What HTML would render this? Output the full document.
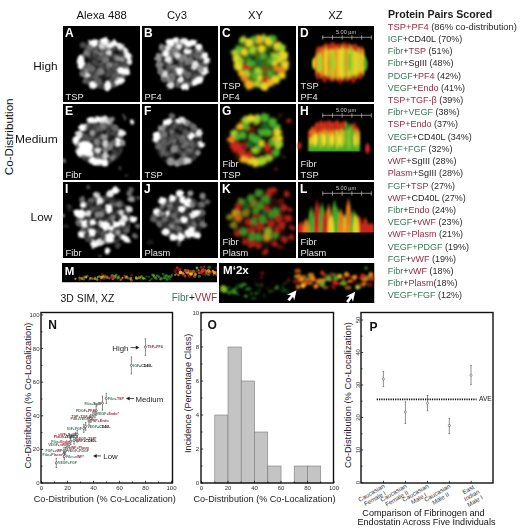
<!DOCTYPE html>
<html><head><meta charset="utf-8"><style>
html,body{margin:0;padding:0;background:#fff;}
body{width:520px;height:529px;overflow:hidden;}
svg{display:block;font-family:"Liberation Sans", sans-serif;}
svg text:not([transform]){filter:blur(0.3px);}
</style></head><body>
<svg width="520" height="529" viewBox="0 0 520 529">
<defs><clipPath id="clipA"><rect x="63" y="26" width="77" height="76"/></clipPath><filter id="blA" x="-20%" y="-20%" width="140%" height="140%"><feTurbulence type="fractalNoise" baseFrequency="0.22" numOctaves="2" seed="101" result="t"/><feDisplacementMap in="SourceGraphic" in2="t" scale="3.5" xChannelSelector="R" yChannelSelector="G" result="d"/><feGaussianBlur in="d" stdDeviation="1.2"/></filter><filter id="txA" x="0" y="0" width="100%" height="100%" color-interpolation-filters="sRGB"><feTurbulence type="fractalNoise" baseFrequency="0.16" numOctaves="2" seed="3" result="n"/><feColorMatrix in="n" type="matrix" values="0 0 0 0 0  0 0 0 0 0  0 0 0 0 0  1.6 0 0 0 -0.3" result="a"/><feFlood flood-color="rgb(127,127,127)"/><feComposite in2="a" operator="in" result="g"/><feComposite in="g" in2="SourceAlpha" operator="in" result="t"/><feGaussianBlur in="t" stdDeviation="0.9"/></filter><clipPath id="clipB"><rect x="142" y="26" width="76" height="76"/></clipPath><filter id="blB" x="-20%" y="-20%" width="140%" height="140%"><feTurbulence type="fractalNoise" baseFrequency="0.22" numOctaves="2" seed="102" result="t"/><feDisplacementMap in="SourceGraphic" in2="t" scale="3.5" xChannelSelector="R" yChannelSelector="G" result="d"/><feGaussianBlur in="d" stdDeviation="1.2"/></filter><filter id="txB" x="0" y="0" width="100%" height="100%" color-interpolation-filters="sRGB"><feTurbulence type="fractalNoise" baseFrequency="0.16" numOctaves="2" seed="5" result="n"/><feColorMatrix in="n" type="matrix" values="0 0 0 0 0  0 0 0 0 0  0 0 0 0 0  1.6 0 0 0 -0.3" result="a"/><feFlood flood-color="rgb(153,153,153)"/><feComposite in2="a" operator="in" result="g"/><feComposite in="g" in2="SourceAlpha" operator="in" result="t"/><feGaussianBlur in="t" stdDeviation="0.9"/></filter><clipPath id="clipE"><rect x="63" y="104" width="77" height="76"/></clipPath><filter id="blE" x="-20%" y="-20%" width="140%" height="140%"><feTurbulence type="fractalNoise" baseFrequency="0.22" numOctaves="2" seed="103" result="t"/><feDisplacementMap in="SourceGraphic" in2="t" scale="3.5" xChannelSelector="R" yChannelSelector="G" result="d"/><feGaussianBlur in="d" stdDeviation="1.2"/></filter><filter id="txE" x="0" y="0" width="100%" height="100%" color-interpolation-filters="sRGB"><feTurbulence type="fractalNoise" baseFrequency="0.16" numOctaves="2" seed="7" result="n"/><feColorMatrix in="n" type="matrix" values="0 0 0 0 0  0 0 0 0 0  0 0 0 0 0  1.6 0 0 0 -0.3" result="a"/><feFlood flood-color="rgb(114,114,114)"/><feComposite in2="a" operator="in" result="g"/><feComposite in="g" in2="SourceAlpha" operator="in" result="t"/><feGaussianBlur in="t" stdDeviation="0.9"/></filter><clipPath id="clipF"><rect x="142" y="104" width="76" height="76"/></clipPath><filter id="blF" x="-20%" y="-20%" width="140%" height="140%"><feTurbulence type="fractalNoise" baseFrequency="0.22" numOctaves="2" seed="104" result="t"/><feDisplacementMap in="SourceGraphic" in2="t" scale="3.5" xChannelSelector="R" yChannelSelector="G" result="d"/><feGaussianBlur in="d" stdDeviation="1.2"/></filter><filter id="txF" x="0" y="0" width="100%" height="100%" color-interpolation-filters="sRGB"><feTurbulence type="fractalNoise" baseFrequency="0.16" numOctaves="2" seed="9" result="n"/><feColorMatrix in="n" type="matrix" values="0 0 0 0 0  0 0 0 0 0  0 0 0 0 0  1.6 0 0 0 -0.3" result="a"/><feFlood flood-color="rgb(114,114,114)"/><feComposite in2="a" operator="in" result="g"/><feComposite in="g" in2="SourceAlpha" operator="in" result="t"/><feGaussianBlur in="t" stdDeviation="0.9"/></filter><clipPath id="clipI"><rect x="63" y="182" width="77" height="76"/></clipPath><filter id="blI" x="-20%" y="-20%" width="140%" height="140%"><feTurbulence type="fractalNoise" baseFrequency="0.22" numOctaves="2" seed="105" result="t"/><feDisplacementMap in="SourceGraphic" in2="t" scale="3.5" xChannelSelector="R" yChannelSelector="G" result="d"/><feGaussianBlur in="d" stdDeviation="1.2"/></filter><filter id="txI" x="0" y="0" width="100%" height="100%" color-interpolation-filters="sRGB"><feTurbulence type="fractalNoise" baseFrequency="0.16" numOctaves="2" seed="11" result="n"/><feColorMatrix in="n" type="matrix" values="0 0 0 0 0  0 0 0 0 0  0 0 0 0 0  1.6 0 0 0 -0.3" result="a"/><feFlood flood-color="rgb(102,102,102)"/><feComposite in2="a" operator="in" result="g"/><feComposite in="g" in2="SourceAlpha" operator="in" result="t"/><feGaussianBlur in="t" stdDeviation="0.9"/></filter><clipPath id="clipJ"><rect x="142" y="182" width="76" height="76"/></clipPath><filter id="blJ" x="-20%" y="-20%" width="140%" height="140%"><feTurbulence type="fractalNoise" baseFrequency="0.22" numOctaves="2" seed="106" result="t"/><feDisplacementMap in="SourceGraphic" in2="t" scale="3.5" xChannelSelector="R" yChannelSelector="G" result="d"/><feGaussianBlur in="d" stdDeviation="1.2"/></filter><filter id="txJ" x="0" y="0" width="100%" height="100%" color-interpolation-filters="sRGB"><feTurbulence type="fractalNoise" baseFrequency="0.16" numOctaves="2" seed="13" result="n"/><feColorMatrix in="n" type="matrix" values="0 0 0 0 0  0 0 0 0 0  0 0 0 0 0  1.6 0 0 0 -0.3" result="a"/><feFlood flood-color="rgb(89,89,89)"/><feComposite in2="a" operator="in" result="g"/><feComposite in="g" in2="SourceAlpha" operator="in" result="t"/><feGaussianBlur in="t" stdDeviation="0.9"/></filter><clipPath id="clipC"><rect x="220" y="26" width="76" height="76"/></clipPath><filter id="blC" x="-20%" y="-20%" width="140%" height="140%"><feTurbulence type="fractalNoise" baseFrequency="0.22" numOctaves="2" seed="107" result="t"/><feDisplacementMap in="SourceGraphic" in2="t" scale="3.5" xChannelSelector="R" yChannelSelector="G" result="d"/><feGaussianBlur in="d" stdDeviation="1.45"/></filter><clipPath id="clipG"><rect x="220" y="104" width="76" height="76"/></clipPath><filter id="blG" x="-20%" y="-20%" width="140%" height="140%"><feTurbulence type="fractalNoise" baseFrequency="0.22" numOctaves="2" seed="108" result="t"/><feDisplacementMap in="SourceGraphic" in2="t" scale="3.5" xChannelSelector="R" yChannelSelector="G" result="d"/><feGaussianBlur in="d" stdDeviation="1.45"/></filter><clipPath id="clipK"><rect x="220" y="182" width="76" height="76"/></clipPath><filter id="blK" x="-20%" y="-20%" width="140%" height="140%"><feTurbulence type="fractalNoise" baseFrequency="0.22" numOctaves="2" seed="109" result="t"/><feDisplacementMap in="SourceGraphic" in2="t" scale="3.5" xChannelSelector="R" yChannelSelector="G" result="d"/><feGaussianBlur in="d" stdDeviation="1.7"/></filter><linearGradient id="gDY" x1="0" y1="0" x2="0" y2="1"><stop offset="0" stop-color="rgb(195,40,20)" stop-opacity="0.8"/><stop offset="0.14" stop-color="rgb(230,120,25)" stop-opacity="1"/><stop offset="0.3" stop-color="rgb(232,215,40)" stop-opacity="1"/><stop offset="0.7" stop-color="rgb(232,215,40)" stop-opacity="1"/><stop offset="0.84" stop-color="rgb(205,60,20)" stop-opacity="1"/><stop offset="1" stop-color="rgb(110,20,10)" stop-opacity="0.5"/></linearGradient><linearGradient id="gHY" x1="0" y1="0" x2="0" y2="1"><stop offset="0" stop-color="rgb(195,40,20)" stop-opacity="0.9"/><stop offset="0.28" stop-color="rgb(215,60,20)" stop-opacity="1"/><stop offset="0.45" stop-color="rgb(232,215,40)" stop-opacity="1"/><stop offset="0.72" stop-color="rgb(232,215,40)" stop-opacity="1"/><stop offset="0.86" stop-color="rgb(150,200,40)" stop-opacity="1"/><stop offset="1" stop-color="rgb(50,165,45)" stop-opacity="1"/></linearGradient><linearGradient id="gLY" x1="0" y1="0" x2="0" y2="1"><stop offset="0" stop-color="rgb(232,215,40)" stop-opacity="0.0"/><stop offset="0.25" stop-color="rgb(232,215,40)" stop-opacity="0.8"/><stop offset="0.7" stop-color="rgb(232,215,40)" stop-opacity="1"/><stop offset="1" stop-color="rgb(232,215,40)" stop-opacity="1"/></linearGradient><linearGradient id="gDL" x1="0" y1="0" x2="0" y2="1"><stop offset="0" stop-color="rgb(195,40,20)" stop-opacity="0.8"/><stop offset="0.14" stop-color="rgb(230,120,25)" stop-opacity="1"/><stop offset="0.3" stop-color="rgb(165,210,45)" stop-opacity="1"/><stop offset="0.7" stop-color="rgb(165,210,45)" stop-opacity="1"/><stop offset="0.84" stop-color="rgb(205,60,20)" stop-opacity="1"/><stop offset="1" stop-color="rgb(110,20,10)" stop-opacity="0.5"/></linearGradient><linearGradient id="gHL" x1="0" y1="0" x2="0" y2="1"><stop offset="0" stop-color="rgb(195,40,20)" stop-opacity="0.9"/><stop offset="0.28" stop-color="rgb(215,60,20)" stop-opacity="1"/><stop offset="0.45" stop-color="rgb(165,210,45)" stop-opacity="1"/><stop offset="0.72" stop-color="rgb(165,210,45)" stop-opacity="1"/><stop offset="0.86" stop-color="rgb(150,200,40)" stop-opacity="1"/><stop offset="1" stop-color="rgb(50,165,45)" stop-opacity="1"/></linearGradient><linearGradient id="gLL" x1="0" y1="0" x2="0" y2="1"><stop offset="0" stop-color="rgb(165,210,45)" stop-opacity="0.0"/><stop offset="0.25" stop-color="rgb(165,210,45)" stop-opacity="0.8"/><stop offset="0.7" stop-color="rgb(165,210,45)" stop-opacity="1"/><stop offset="1" stop-color="rgb(165,210,45)" stop-opacity="1"/></linearGradient><linearGradient id="gDG" x1="0" y1="0" x2="0" y2="1"><stop offset="0" stop-color="rgb(195,40,20)" stop-opacity="0.8"/><stop offset="0.14" stop-color="rgb(230,120,25)" stop-opacity="1"/><stop offset="0.3" stop-color="rgb(70,175,45)" stop-opacity="1"/><stop offset="0.7" stop-color="rgb(70,175,45)" stop-opacity="1"/><stop offset="0.84" stop-color="rgb(205,60,20)" stop-opacity="1"/><stop offset="1" stop-color="rgb(110,20,10)" stop-opacity="0.5"/></linearGradient><linearGradient id="gHG" x1="0" y1="0" x2="0" y2="1"><stop offset="0" stop-color="rgb(195,40,20)" stop-opacity="0.9"/><stop offset="0.28" stop-color="rgb(215,60,20)" stop-opacity="1"/><stop offset="0.45" stop-color="rgb(70,175,45)" stop-opacity="1"/><stop offset="0.72" stop-color="rgb(70,175,45)" stop-opacity="1"/><stop offset="0.86" stop-color="rgb(150,200,40)" stop-opacity="1"/><stop offset="1" stop-color="rgb(50,165,45)" stop-opacity="1"/></linearGradient><linearGradient id="gLG" x1="0" y1="0" x2="0" y2="1"><stop offset="0" stop-color="rgb(70,175,45)" stop-opacity="0.0"/><stop offset="0.25" stop-color="rgb(70,175,45)" stop-opacity="0.8"/><stop offset="0.7" stop-color="rgb(70,175,45)" stop-opacity="1"/><stop offset="1" stop-color="rgb(70,175,45)" stop-opacity="1"/></linearGradient><linearGradient id="gDO" x1="0" y1="0" x2="0" y2="1"><stop offset="0" stop-color="rgb(195,40,20)" stop-opacity="0.8"/><stop offset="0.14" stop-color="rgb(230,120,25)" stop-opacity="1"/><stop offset="0.3" stop-color="rgb(240,180,30)" stop-opacity="1"/><stop offset="0.7" stop-color="rgb(240,180,30)" stop-opacity="1"/><stop offset="0.84" stop-color="rgb(205,60,20)" stop-opacity="1"/><stop offset="1" stop-color="rgb(110,20,10)" stop-opacity="0.5"/></linearGradient><linearGradient id="gHO" x1="0" y1="0" x2="0" y2="1"><stop offset="0" stop-color="rgb(195,40,20)" stop-opacity="0.9"/><stop offset="0.28" stop-color="rgb(215,60,20)" stop-opacity="1"/><stop offset="0.45" stop-color="rgb(240,180,30)" stop-opacity="1"/><stop offset="0.72" stop-color="rgb(240,180,30)" stop-opacity="1"/><stop offset="0.86" stop-color="rgb(150,200,40)" stop-opacity="1"/><stop offset="1" stop-color="rgb(50,165,45)" stop-opacity="1"/></linearGradient><linearGradient id="gLO" x1="0" y1="0" x2="0" y2="1"><stop offset="0" stop-color="rgb(240,180,30)" stop-opacity="0.0"/><stop offset="0.25" stop-color="rgb(240,180,30)" stop-opacity="0.8"/><stop offset="0.7" stop-color="rgb(240,180,30)" stop-opacity="1"/><stop offset="1" stop-color="rgb(240,180,30)" stop-opacity="1"/></linearGradient><linearGradient id="gHG" x1="0" y1="0" x2="0" y2="1"><stop offset="0" stop-color="rgb(60,170,50)" stop-opacity="0.9"/><stop offset="0.5" stop-color="rgb(90,190,50)" stop-opacity="1"/><stop offset="1" stop-color="rgb(50,165,45)" stop-opacity="1"/></linearGradient><clipPath id="clipD"><rect x="298" y="26" width="76" height="76"/></clipPath><filter id="blD" x="-20%" y="-20%" width="140%" height="140%"><feGaussianBlur stdDeviation="1.2 1.8"/></filter><linearGradient id="gHbot" x1="0" y1="0" x2="0" y2="1"><stop offset="0" stop-color="rgb(60,170,45)" stop-opacity="0"/><stop offset="0.5" stop-color="rgb(70,175,45)" stop-opacity="0.9"/><stop offset="1" stop-color="rgb(50,165,45)" stop-opacity="1"/></linearGradient><clipPath id="clipH"><rect x="298" y="104" width="76" height="47.6"/></clipPath><filter id="blH" x="-20%" y="-20%" width="140%" height="140%"><feGaussianBlur stdDeviation="1.0 1.7"/></filter><linearGradient id="gFR" x1="0" y1="0" x2="0" y2="1"><stop offset="0" stop-color="rgb(205,40,30)" stop-opacity="0.2"/><stop offset="0.12" stop-color="rgb(205,40,30)" stop-opacity="0.9"/><stop offset="1" stop-color="rgb(205,40,30)" stop-opacity="1"/></linearGradient><linearGradient id="gFG" x1="0" y1="0" x2="0" y2="1"><stop offset="0" stop-color="rgb(70,175,45)" stop-opacity="0.2"/><stop offset="0.12" stop-color="rgb(70,175,45)" stop-opacity="0.9"/><stop offset="1" stop-color="rgb(70,175,45)" stop-opacity="1"/></linearGradient><linearGradient id="gFO" x1="0" y1="0" x2="0" y2="1"><stop offset="0" stop-color="rgb(232,130,30)" stop-opacity="0.2"/><stop offset="0.12" stop-color="rgb(232,130,30)" stop-opacity="0.9"/><stop offset="1" stop-color="rgb(232,130,30)" stop-opacity="1"/></linearGradient><linearGradient id="gFY" x1="0" y1="0" x2="0" y2="1"><stop offset="0" stop-color="rgb(232,215,40)" stop-opacity="0.2"/><stop offset="0.12" stop-color="rgb(232,215,40)" stop-opacity="0.9"/><stop offset="1" stop-color="rgb(232,215,40)" stop-opacity="1"/></linearGradient><clipPath id="clipL"><rect x="298" y="182" width="76" height="50.6"/></clipPath><filter id="blL" x="-20%" y="-20%" width="140%" height="140%"><feGaussianBlur stdDeviation="1.0 1.5"/></filter><clipPath id="clipM"><rect x="62" y="263" width="155" height="19.5"/></clipPath><filter id="blM" x="-20%" y="-20%" width="140%" height="140%"><feGaussianBlur stdDeviation="0.7"/></filter><clipPath id="clipMp"><rect x="219" y="263" width="155.5" height="40"/></clipPath><filter id="blMp" x="-20%" y="-20%" width="140%" height="140%"><feGaussianBlur stdDeviation="1.3"/></filter></defs>
<g clip-path="url(#clipA)">
<rect x="63" y="26" width="77" height="76" fill="#000"/>
<g transform="translate(63,26)"><ellipse cx="41.5" cy="38.5" rx="25" ry="25" fill="#fff" filter="url(#txA)"/></g>
<g filter="url(#blA)" transform="translate(63,26)" style="mix-blend-mode:lighten">
<ellipse cx="30.4" cy="17.2" rx="4.56" ry="3.84" fill="rgb(255,255,255)"/>
<ellipse cx="40.8" cy="14.9" rx="4.2" ry="3.6" fill="rgb(255,255,255)"/>
<ellipse cx="39.2" cy="20.3" rx="3.6" ry="3.0" fill="rgb(210,210,210)"/>
<ellipse cx="46.9" cy="19.5" rx="3.6" ry="3.0" fill="rgb(238,238,238)"/>
<ellipse cx="51.5" cy="17.2" rx="3.6" ry="3.0" fill="rgb(252,252,252)"/>
<ellipse cx="57" cy="20.3" rx="3.6" ry="3.0" fill="rgb(238,238,238)" transform="rotate(40 57 20.3)"/>
<ellipse cx="62.3" cy="25" rx="3.6" ry="3.0" fill="rgb(238,238,238)" transform="rotate(50 62.3 25)"/>
<ellipse cx="65.4" cy="30.3" rx="3.0" ry="3.6" fill="rgb(252,252,252)"/>
<ellipse cx="66.2" cy="35.5" rx="3.0" ry="3.6" fill="rgb(238,238,238)"/>
<ellipse cx="17.7" cy="36" rx="3.84" ry="7.2" fill="rgb(255,255,255)"/>
<ellipse cx="23.8" cy="27.2" rx="3.0" ry="3.0" fill="rgb(130,130,130)"/>
<ellipse cx="20" cy="19.5" rx="3.6" ry="3.6" fill="rgb(75,75,75)"/>
<ellipse cx="26.9" cy="21" rx="3.0" ry="3.0" fill="rgb(108,108,108)"/>
<ellipse cx="33" cy="25.7" rx="3.0" ry="3.0" fill="rgb(108,108,108)"/>
<ellipse cx="37.7" cy="28" rx="3.0" ry="3.0" fill="rgb(119,119,119)"/>
<ellipse cx="23" cy="44" rx="3.0" ry="3.0" fill="rgb(130,130,130)"/>
<ellipse cx="43" cy="33.4" rx="3.0" ry="3.0" fill="rgb(119,119,119)"/>
<ellipse cx="47" cy="38.8" rx="3.0" ry="3.0" fill="rgb(130,130,130)"/>
<ellipse cx="37" cy="44" rx="3.0" ry="3.0" fill="rgb(108,108,108)"/>
<ellipse cx="46" cy="26.5" rx="3.0" ry="3.0" fill="rgb(210,210,210)"/>
<ellipse cx="55.4" cy="32.6" rx="3.0" ry="2.4" fill="rgb(151,151,151)"/>
<ellipse cx="58.5" cy="33.4" rx="3.0" ry="2.4" fill="rgb(151,151,151)"/>
<ellipse cx="57.7" cy="44.5" rx="3.6" ry="3.6" fill="rgb(252,252,252)"/>
<ellipse cx="63" cy="45.7" rx="3.6" ry="3.6" fill="rgb(255,255,255)"/>
<ellipse cx="19.2" cy="48" rx="3.0" ry="3.0" fill="rgb(119,119,119)"/>
<ellipse cx="24.6" cy="48.8" rx="3.0" ry="2.64" fill="rgb(224,224,224)"/>
<ellipse cx="30" cy="59.5" rx="3.84" ry="3.6" fill="rgb(255,255,255)"/>
<ellipse cx="44.6" cy="60" rx="3.6" ry="5.4" fill="rgb(255,255,255)"/>
<ellipse cx="57.3" cy="55.3" rx="5.4" ry="3.0" fill="rgb(255,255,255)" transform="rotate(-30 57.3 55.3)"/>
<ellipse cx="38.5" cy="45.7" rx="3.0" ry="3.0" fill="rgb(130,130,130)"/>
<ellipse cx="29.2" cy="42.6" rx="3.0" ry="3.0" fill="rgb(108,108,108)"/>
<ellipse cx="22.3" cy="55" rx="3.0" ry="3.0" fill="rgb(97,97,97)"/>
<ellipse cx="52" cy="50" rx="3.0" ry="3.0" fill="rgb(97,97,97)"/>
<ellipse cx="36" cy="56" rx="3.0" ry="3.0" fill="rgb(97,97,97)"/>
</g></g>
<text x="65" y="36.8" font-size="12" font-weight="700" fill="#fff">A</text>
<text x="65.5" y="99.8" font-size="9.3" fill="#e8e8e8">TSP</text>
<g clip-path="url(#clipB)">
<rect x="142" y="26" width="76" height="76" fill="#000"/>
<g transform="translate(142,26)"><ellipse cx="41" cy="37.8" rx="25.5" ry="24.5" fill="#fff" filter="url(#txB)"/></g>
<g filter="url(#blB)" transform="translate(142,26)" style="mix-blend-mode:lighten">
<ellipse cx="28.5" cy="16.5" rx="4.2" ry="3.6" fill="rgb(255,255,255)"/>
<ellipse cx="33.8" cy="14.2" rx="3.6" ry="3.0" fill="rgb(252,252,252)"/>
<ellipse cx="42.3" cy="15" rx="3.6" ry="3.0" fill="rgb(238,238,238)"/>
<ellipse cx="46.9" cy="18" rx="3.6" ry="3.0" fill="rgb(255,255,255)"/>
<ellipse cx="45.4" cy="25.7" rx="4.2" ry="2.4" fill="rgb(255,255,255)"/>
<ellipse cx="26.2" cy="21.8" rx="3.36" ry="3.36" fill="rgb(238,238,238)"/>
<ellipse cx="23" cy="27.2" rx="3.36" ry="3.36" fill="rgb(252,252,252)"/>
<ellipse cx="19.2" cy="21" rx="3.36" ry="3.36" fill="rgb(130,130,130)"/>
<ellipse cx="16.2" cy="31" rx="3.36" ry="3.6" fill="rgb(151,151,151)"/>
<ellipse cx="16.9" cy="38.8" rx="3.36" ry="3.6" fill="rgb(130,130,130)"/>
<ellipse cx="26.2" cy="33.4" rx="3.36" ry="3.36" fill="rgb(238,238,238)"/>
<ellipse cx="35.4" cy="29.5" rx="3.12" ry="3.12" fill="rgb(224,224,224)"/>
<ellipse cx="36.9" cy="20.3" rx="3.12" ry="3.12" fill="rgb(238,238,238)"/>
<ellipse cx="33" cy="24" rx="3.0" ry="3.0" fill="rgb(130,130,130)"/>
<ellipse cx="40.8" cy="31.8" rx="3.0" ry="3.0" fill="rgb(119,119,119)"/>
<ellipse cx="46.2" cy="35" rx="3.0" ry="3.0" fill="rgb(130,130,130)"/>
<ellipse cx="36.9" cy="45" rx="3.36" ry="3.36" fill="rgb(224,224,224)"/>
<ellipse cx="19.2" cy="45" rx="3.36" ry="3.36" fill="rgb(130,130,130)"/>
<ellipse cx="29.2" cy="40.3" rx="3.0" ry="3.0" fill="rgb(108,108,108)"/>
<ellipse cx="44.6" cy="17.2" rx="3.36" ry="3.0" fill="rgb(255,255,255)"/>
<ellipse cx="50.8" cy="16.5" rx="3.36" ry="3.0" fill="rgb(252,252,252)"/>
<ellipse cx="56.9" cy="21" rx="3.36" ry="3.36" fill="rgb(252,252,252)"/>
<ellipse cx="62.3" cy="30.3" rx="3.6" ry="3.6" fill="rgb(255,255,255)"/>
<ellipse cx="64.6" cy="34" rx="3.36" ry="3.6" fill="rgb(255,255,255)"/>
<ellipse cx="53" cy="38.8" rx="3.36" ry="3.6" fill="rgb(252,252,252)"/>
<ellipse cx="62.3" cy="45" rx="3.36" ry="3.36" fill="rgb(252,252,252)"/>
<ellipse cx="55.4" cy="30.3" rx="3.0" ry="3.0" fill="rgb(108,108,108)"/>
<ellipse cx="42.3" cy="31.8" rx="3.0" ry="3.0" fill="rgb(130,130,130)"/>
<ellipse cx="47.7" cy="35" rx="3.0" ry="3.0" fill="rgb(119,119,119)"/>
<ellipse cx="23" cy="48" rx="3.36" ry="3.36" fill="rgb(224,224,224)"/>
<ellipse cx="37.7" cy="45.7" rx="3.36" ry="3.36" fill="rgb(255,255,255)"/>
<ellipse cx="38.5" cy="53.4" rx="3.36" ry="3.36" fill="rgb(238,238,238)"/>
<ellipse cx="28.5" cy="59.5" rx="3.6" ry="3.36" fill="rgb(224,224,224)"/>
<ellipse cx="43" cy="61" rx="3.84" ry="3.6" fill="rgb(255,255,255)"/>
<ellipse cx="18.5" cy="45.7" rx="3.0" ry="3.0" fill="rgb(119,119,119)"/>
<ellipse cx="30" cy="49.5" rx="3.0" ry="3.0" fill="rgb(119,119,119)"/>
<ellipse cx="21.5" cy="53.4" rx="3.0" ry="3.0" fill="rgb(108,108,108)"/>
<ellipse cx="33" cy="41.8" rx="3.0" ry="3.0" fill="rgb(119,119,119)"/>
<ellipse cx="55.4" cy="54.9" rx="6.6" ry="3.36" fill="rgb(255,255,255)" transform="rotate(-28 55.4 54.9)"/>
<ellipse cx="62.3" cy="45.7" rx="3.36" ry="3.36" fill="rgb(252,252,252)"/>
<ellipse cx="53" cy="40.3" rx="3.0" ry="3.0" fill="rgb(224,224,224)"/>
<ellipse cx="59.2" cy="44" rx="3.0" ry="3.0" fill="rgb(151,151,151)"/>
<ellipse cx="46.2" cy="49.5" rx="3.0" ry="3.0" fill="rgb(108,108,108)"/>
</g></g>
<text x="144" y="36.8" font-size="12" font-weight="700" fill="#fff">B</text>
<text x="144.5" y="99.8" font-size="9.3" fill="#e8e8e8">PF4</text>
<g clip-path="url(#clipE)">
<rect x="63" y="104" width="77" height="76" fill="#000"/>
<g transform="translate(63,104)"><ellipse cx="36.3" cy="38.5" rx="24.5" ry="23.5" fill="#fff" filter="url(#txE)"/></g>
<g filter="url(#blE)" transform="translate(63,104)" style="mix-blend-mode:lighten">
<ellipse cx="28.5" cy="16.5" rx="4.8" ry="3.6" fill="rgb(255,255,255)"/>
<ellipse cx="34.7" cy="15.7" rx="3.6" ry="3.36" fill="rgb(252,252,252)"/>
<ellipse cx="40.8" cy="15.7" rx="3.6" ry="3.36" fill="rgb(238,238,238)"/>
<ellipse cx="45.5" cy="16.5" rx="3.6" ry="3.36" fill="rgb(224,224,224)"/>
<ellipse cx="47.8" cy="15.7" rx="3.36" ry="3.12" fill="rgb(151,151,151)"/>
<ellipse cx="20" cy="23.4" rx="3.6" ry="3.6" fill="rgb(255,255,255)"/>
<ellipse cx="16.2" cy="30.3" rx="3.36" ry="3.6" fill="rgb(224,224,224)"/>
<ellipse cx="13.2" cy="36.5" rx="3.6" ry="4.2" fill="rgb(255,255,255)"/>
<ellipse cx="22.4" cy="44.2" rx="7.8" ry="7.2" fill="rgb(255,255,255)"/>
<ellipse cx="18" cy="48" rx="4.8" ry="4.8" fill="rgb(255,255,255)"/>
<ellipse cx="27" cy="50" rx="3.6" ry="3.6" fill="rgb(252,252,252)"/>
<ellipse cx="29.3" cy="28.8" rx="3.12" ry="3.12" fill="rgb(151,151,151)"/>
<ellipse cx="33.9" cy="38" rx="3.0" ry="3.0" fill="rgb(130,130,130)"/>
<ellipse cx="40" cy="32.6" rx="3.12" ry="3.12" fill="rgb(140,140,140)"/>
<ellipse cx="42.4" cy="38.8" rx="3.12" ry="3.12" fill="rgb(130,130,130)"/>
<ellipse cx="39.3" cy="23.4" rx="3.12" ry="3.12" fill="rgb(108,108,108)"/>
<ellipse cx="40" cy="21" rx="3.0" ry="3.0" fill="rgb(119,119,119)"/>
<ellipse cx="69.3" cy="17.6" rx="2.4" ry="2.4" fill="rgb(255,255,255)"/>
<ellipse cx="61.6" cy="13.4" rx="1.44" ry="4.2" fill="rgb(75,75,75)" transform="rotate(-30 61.6 13.4)"/>
<ellipse cx="58.5" cy="28.8" rx="3.6" ry="3.6" fill="rgb(238,238,238)"/>
<ellipse cx="55.5" cy="38" rx="3.0" ry="4.2" fill="rgb(255,255,255)"/>
<ellipse cx="59.3" cy="38.8" rx="3.0" ry="3.0" fill="rgb(151,151,151)"/>
<ellipse cx="41.6" cy="32.6" rx="3.0" ry="3.0" fill="rgb(151,151,151)"/>
<ellipse cx="41.6" cy="39.5" rx="3.0" ry="3.0" fill="rgb(210,210,210)"/>
<ellipse cx="49.3" cy="40.3" rx="3.0" ry="3.0" fill="rgb(108,108,108)"/>
<ellipse cx="52.4" cy="24" rx="3.0" ry="3.0" fill="rgb(108,108,108)"/>
<ellipse cx="35.5" cy="58" rx="6.6" ry="3.6" fill="rgb(255,255,255)"/>
<ellipse cx="30" cy="56.5" rx="3.6" ry="3.6" fill="rgb(255,255,255)"/>
<ellipse cx="40.8" cy="58" rx="3.6" ry="3.6" fill="rgb(252,252,252)"/>
<ellipse cx="34.7" cy="46.5" rx="3.12" ry="3.12" fill="rgb(224,224,224)"/>
<ellipse cx="42.4" cy="45.7" rx="3.0" ry="3.0" fill="rgb(130,130,130)"/>
<ellipse cx="41.6" cy="58.8" rx="3.6" ry="3.6" fill="rgb(255,255,255)"/>
<ellipse cx="42.4" cy="51.8" rx="3.0" ry="3.0" fill="rgb(210,210,210)"/>
<ellipse cx="49.3" cy="53.4" rx="3.0" ry="3.0" fill="rgb(130,130,130)"/>
<ellipse cx="47" cy="42.6" rx="3.0" ry="3.0" fill="rgb(130,130,130)"/>
<ellipse cx="57" cy="64.5" rx="1.2" ry="1.2" fill="rgb(108,108,108)"/>
<ellipse cx="63.2" cy="71.8" rx="1.2" ry="1.2" fill="rgb(65,65,65)"/>
<ellipse cx="1" cy="57" rx="1.8" ry="1.8" fill="rgb(130,130,130)"/>
</g></g>
<text x="65" y="114.8" font-size="12" font-weight="700" fill="#fff">E</text>
<text x="65.5" y="177.8" font-size="9.3" fill="#e8e8e8">Fibr</text>
<g clip-path="url(#clipF)">
<rect x="142" y="104" width="76" height="76" fill="#000"/>
<g transform="translate(142,104)"><ellipse cx="36.5" cy="38.3" rx="24" ry="23.5" fill="#fff" filter="url(#txF)"/></g>
<g filter="url(#blF)" transform="translate(142,104)" style="mix-blend-mode:lighten">
<ellipse cx="25.5" cy="18" rx="4.8" ry="3.0" fill="rgb(255,255,255)" transform="rotate(-20 25.5 18)"/>
<ellipse cx="37.8" cy="16.5" rx="4.2" ry="3.0" fill="rgb(252,252,252)" transform="rotate(-20 37.8 16.5)"/>
<ellipse cx="43.9" cy="18.8" rx="3.36" ry="3.0" fill="rgb(210,210,210)"/>
<ellipse cx="19.3" cy="24.2" rx="3.36" ry="3.36" fill="rgb(151,151,151)"/>
<ellipse cx="14.7" cy="32.6" rx="3.36" ry="5.4" fill="rgb(255,255,255)" transform="rotate(15 14.7 32.6)"/>
<ellipse cx="22.4" cy="30.3" rx="3.0" ry="3.0" fill="rgb(119,119,119)"/>
<ellipse cx="30" cy="28" rx="3.0" ry="3.0" fill="rgb(108,108,108)"/>
<ellipse cx="17" cy="41" rx="3.0" ry="3.0" fill="rgb(108,108,108)"/>
<ellipse cx="22.4" cy="37.2" rx="3.0" ry="3.0" fill="rgb(97,97,97)"/>
<ellipse cx="32.4" cy="37.2" rx="3.0" ry="3.0" fill="rgb(108,108,108)"/>
<ellipse cx="39.3" cy="34" rx="3.0" ry="3.0" fill="rgb(97,97,97)"/>
<ellipse cx="44" cy="39.5" rx="3.0" ry="3.0" fill="rgb(119,119,119)"/>
<ellipse cx="32.4" cy="45" rx="3.0" ry="3.0" fill="rgb(130,130,130)"/>
<ellipse cx="49.3" cy="31.8" rx="3.6" ry="3.6" fill="rgb(255,255,255)"/>
<ellipse cx="57" cy="29.5" rx="3.6" ry="3.6" fill="rgb(238,238,238)"/>
<ellipse cx="59.3" cy="40.3" rx="3.36" ry="3.36" fill="rgb(252,252,252)"/>
<ellipse cx="40" cy="15.7" rx="3.12" ry="3.0" fill="rgb(224,224,224)"/>
<ellipse cx="45.5" cy="19.5" rx="3.0" ry="3.0" fill="rgb(130,130,130)"/>
<ellipse cx="51.6" cy="22.6" rx="3.0" ry="3.0" fill="rgb(108,108,108)"/>
<ellipse cx="41.6" cy="33.4" rx="3.0" ry="3.0" fill="rgb(108,108,108)"/>
<ellipse cx="49.3" cy="40.3" rx="3.0" ry="3.0" fill="rgb(97,97,97)"/>
<ellipse cx="41.6" cy="41.8" rx="3.0" ry="3.0" fill="rgb(108,108,108)"/>
<ellipse cx="17" cy="42.6" rx="3.0" ry="3.0" fill="rgb(108,108,108)"/>
<ellipse cx="32.4" cy="45.7" rx="3.0" ry="3.0" fill="rgb(140,140,140)"/>
<ellipse cx="28.5" cy="57.2" rx="3.36" ry="3.36" fill="rgb(151,151,151)"/>
<ellipse cx="34.7" cy="59.5" rx="3.36" ry="3.36" fill="rgb(151,151,151)"/>
<ellipse cx="42.4" cy="57.2" rx="3.36" ry="3.36" fill="rgb(210,210,210)"/>
<ellipse cx="41.6" cy="51.8" rx="3.0" ry="3.0" fill="rgb(108,108,108)"/>
<ellipse cx="24.7" cy="50.3" rx="3.0" ry="3.0" fill="rgb(86,86,86)"/>
<ellipse cx="55.5" cy="48.8" rx="3.0" ry="3.0" fill="rgb(140,140,140)"/>
<ellipse cx="46.2" cy="56.5" rx="3.36" ry="3.36" fill="rgb(210,210,210)"/>
<ellipse cx="39.3" cy="57.2" rx="3.0" ry="3.0" fill="rgb(130,130,130)"/>
<ellipse cx="30" cy="12.5" rx="3.0" ry="2.4" fill="rgb(108,108,108)"/>
</g></g>
<text x="144" y="114.8" font-size="12" font-weight="700" fill="#fff">F</text>
<text x="144.5" y="177.8" font-size="9.3" fill="#e8e8e8">TSP</text>
<g clip-path="url(#clipI)">
<rect x="63" y="182" width="77" height="76" fill="#000"/>
<g transform="translate(63,182)"><ellipse cx="42" cy="38" rx="26" ry="25" fill="#fff" filter="url(#txI)"/></g>
<g filter="url(#blI)" transform="translate(63,182)" style="mix-blend-mode:lighten">
<ellipse cx="17.7" cy="32.3" rx="5.04" ry="4.32" fill="rgb(255,255,255)"/>
<ellipse cx="14.5" cy="31" rx="3.6" ry="3.6" fill="rgb(255,255,255)"/>
<ellipse cx="25.4" cy="31.5" rx="3.36" ry="3.36" fill="rgb(224,224,224)"/>
<ellipse cx="20" cy="23" rx="3.0" ry="3.0" fill="rgb(255,255,255)"/>
<ellipse cx="19.2" cy="17.7" rx="3.0" ry="3.0" fill="rgb(108,108,108)"/>
<ellipse cx="25.4" cy="5.4" rx="1.8" ry="1.8" fill="rgb(86,86,86)"/>
<ellipse cx="33.8" cy="13" rx="3.36" ry="3.36" fill="rgb(210,210,210)"/>
<ellipse cx="36.9" cy="19.2" rx="3.36" ry="3.36" fill="rgb(238,238,238)"/>
<ellipse cx="28.5" cy="18.5" rx="3.0" ry="3.0" fill="rgb(97,97,97)"/>
<ellipse cx="34.6" cy="32.3" rx="3.12" ry="3.12" fill="rgb(130,130,130)"/>
<ellipse cx="6.2" cy="25.4" rx="1.8" ry="3.6" fill="rgb(54,54,54)"/>
<ellipse cx="0.5" cy="33.8" rx="1.8" ry="1.8" fill="rgb(130,130,130)"/>
<ellipse cx="47.8" cy="11.5" rx="4.8" ry="3.6" fill="rgb(238,238,238)" transform="rotate(-20 47.8 11.5)"/>
<ellipse cx="52.4" cy="8.5" rx="3.36" ry="3.36" fill="rgb(255,255,255)"/>
<ellipse cx="46.2" cy="27" rx="3.36" ry="4.8" fill="rgb(255,255,255)"/>
<ellipse cx="66.2" cy="11.5" rx="2.64" ry="2.64" fill="rgb(108,108,108)"/>
<ellipse cx="68.5" cy="7.7" rx="2.4" ry="2.4" fill="rgb(97,97,97)"/>
<ellipse cx="68.5" cy="17" rx="3.0" ry="3.0" fill="rgb(151,151,151)"/>
<ellipse cx="66.2" cy="27" rx="3.36" ry="3.36" fill="rgb(224,224,224)"/>
<ellipse cx="55.5" cy="23" rx="3.0" ry="3.0" fill="rgb(119,119,119)"/>
<ellipse cx="57.8" cy="30.8" rx="3.12" ry="3.12" fill="rgb(210,210,210)"/>
<ellipse cx="61.6" cy="36.2" rx="3.36" ry="3.36" fill="rgb(252,252,252)"/>
<ellipse cx="70" cy="37" rx="3.36" ry="3.36" fill="rgb(252,252,252)"/>
<ellipse cx="50" cy="36.2" rx="3.0" ry="3.0" fill="rgb(130,130,130)"/>
<ellipse cx="37.8" cy="32.3" rx="3.0" ry="3.0" fill="rgb(130,130,130)"/>
<ellipse cx="75.5" cy="16" rx="1.8" ry="1.8" fill="rgb(86,86,86)"/>
<ellipse cx="20.8" cy="41.8" rx="3.6" ry="3.6" fill="rgb(255,255,255)"/>
<ellipse cx="30" cy="40.6" rx="3.36" ry="3.36" fill="rgb(255,255,255)"/>
<ellipse cx="18.5" cy="52.2" rx="3.6" ry="3.6" fill="rgb(255,255,255)"/>
<ellipse cx="29.2" cy="50.6" rx="3.36" ry="4.2" fill="rgb(255,255,255)"/>
<ellipse cx="30.8" cy="62.2" rx="3.6" ry="3.6" fill="rgb(255,255,255)"/>
<ellipse cx="35.4" cy="60.6" rx="3.36" ry="3.36" fill="rgb(252,252,252)"/>
<ellipse cx="15.4" cy="40.6" rx="3.0" ry="3.0" fill="rgb(108,108,108)"/>
<ellipse cx="38.5" cy="42.2" rx="3.12" ry="3.12" fill="rgb(224,224,224)"/>
<ellipse cx="3" cy="44.5" rx="1.8" ry="2.4" fill="rgb(43,43,43)"/>
<ellipse cx="37" cy="73.7" rx="1.44" ry="1.44" fill="rgb(108,108,108)"/>
<ellipse cx="42.4" cy="43.7" rx="4.2" ry="4.2" fill="rgb(255,255,255)"/>
<ellipse cx="53.2" cy="42.2" rx="4.2" ry="3.0" fill="rgb(255,255,255)"/>
<ellipse cx="59.3" cy="40.6" rx="3.0" ry="3.0" fill="rgb(252,252,252)"/>
<ellipse cx="59.3" cy="37.5" rx="2.64" ry="2.64" fill="rgb(224,224,224)"/>
<ellipse cx="48.5" cy="46.8" rx="3.0" ry="3.0" fill="rgb(252,252,252)"/>
<ellipse cx="47" cy="56" rx="4.8" ry="4.8" fill="rgb(255,255,255)"/>
<ellipse cx="62.4" cy="56.8" rx="5.4" ry="3.0" fill="rgb(255,255,255)" transform="rotate(35 62.4 56.8)"/>
<ellipse cx="54.7" cy="50.6" rx="3.0" ry="3.0" fill="rgb(151,151,151)"/>
<ellipse cx="70" cy="37.5" rx="3.0" ry="3.0" fill="rgb(252,252,252)"/>
<ellipse cx="71.6" cy="53.7" rx="2.4" ry="2.4" fill="rgb(108,108,108)"/>
<ellipse cx="74.7" cy="44.5" rx="2.4" ry="2.4" fill="rgb(108,108,108)"/>
<ellipse cx="37.8" cy="60.6" rx="3.0" ry="3.0" fill="rgb(224,224,224)"/>
<ellipse cx="44.7" cy="69" rx="2.4" ry="3.6" fill="rgb(252,252,252)" transform="rotate(30 44.7 69)"/>
<ellipse cx="64" cy="48.3" rx="2.64" ry="2.64" fill="rgb(97,97,97)"/>
<ellipse cx="24" cy="47" rx="3.0" ry="3.0" fill="rgb(86,86,86)"/>
<ellipse cx="40" cy="52" rx="3.0" ry="3.0" fill="rgb(86,86,86)"/>
<ellipse cx="25" cy="57" rx="3.0" ry="3.0" fill="rgb(75,75,75)"/>
<ellipse cx="55" cy="64" rx="3.0" ry="3.0" fill="rgb(65,65,65)"/>
</g></g>
<text x="65" y="192.8" font-size="12" font-weight="700" fill="#fff">I</text>
<text x="65.5" y="255.8" font-size="9.3" fill="#e8e8e8">Fibr</text>
<g clip-path="url(#clipJ)">
<rect x="142" y="182" width="76" height="76" fill="#000"/>
<g transform="translate(142,182)"><ellipse cx="39" cy="36" rx="24" ry="23" fill="#fff" filter="url(#txJ)"/></g>
<g filter="url(#blJ)" transform="translate(142,182)" style="mix-blend-mode:lighten">
<ellipse cx="20.8" cy="19.2" rx="3.6" ry="3.6" fill="rgb(255,255,255)"/>
<ellipse cx="30.4" cy="16.5" rx="3.36" ry="3.36" fill="rgb(255,255,255)"/>
<ellipse cx="37.5" cy="11.5" rx="3.6" ry="3.6" fill="rgb(255,255,255)"/>
<ellipse cx="14.6" cy="30" rx="3.6" ry="3.6" fill="rgb(255,255,255)"/>
<ellipse cx="25.4" cy="31.5" rx="3.0" ry="3.0" fill="rgb(252,252,252)"/>
<ellipse cx="27.7" cy="24.6" rx="3.0" ry="3.0" fill="rgb(130,130,130)"/>
<ellipse cx="19.2" cy="31.5" rx="3.0" ry="3.0" fill="rgb(130,130,130)"/>
<ellipse cx="11.5" cy="35.4" rx="3.0" ry="3.0" fill="rgb(75,75,75)"/>
<ellipse cx="32.3" cy="33.8" rx="3.0" ry="3.0" fill="rgb(108,108,108)"/>
<ellipse cx="38.5" cy="27" rx="3.0" ry="3.0" fill="rgb(151,151,151)"/>
<ellipse cx="40.6" cy="17.7" rx="3.36" ry="3.36" fill="rgb(255,255,255)"/>
<ellipse cx="44.5" cy="20.8" rx="3.36" ry="3.36" fill="rgb(255,255,255)"/>
<ellipse cx="46.8" cy="19.2" rx="3.0" ry="3.0" fill="rgb(252,252,252)"/>
<ellipse cx="48.3" cy="11.5" rx="3.0" ry="3.0" fill="rgb(151,151,151)"/>
<ellipse cx="39.8" cy="27" rx="3.36" ry="3.36" fill="rgb(252,252,252)"/>
<ellipse cx="49.8" cy="23" rx="3.0" ry="3.0" fill="rgb(130,130,130)"/>
<ellipse cx="53.7" cy="31.5" rx="4.8" ry="3.0" fill="rgb(255,255,255)" transform="rotate(-25 53.7 31.5)"/>
<ellipse cx="49.8" cy="33.8" rx="3.0" ry="3.0" fill="rgb(238,238,238)"/>
<ellipse cx="42.2" cy="37.7" rx="3.6" ry="3.6" fill="rgb(255,255,255)"/>
<ellipse cx="60.6" cy="13.8" rx="3.0" ry="3.0" fill="rgb(130,130,130)"/>
<ellipse cx="65.2" cy="20" rx="2.64" ry="2.64" fill="rgb(97,97,97)"/>
<ellipse cx="59.8" cy="22.3" rx="3.0" ry="3.0" fill="rgb(108,108,108)"/>
<ellipse cx="60.6" cy="30.8" rx="3.0" ry="3.0" fill="rgb(97,97,97)"/>
<ellipse cx="23.8" cy="49.8" rx="3.6" ry="3.6" fill="rgb(255,255,255)"/>
<ellipse cx="30.8" cy="55.2" rx="3.36" ry="3.36" fill="rgb(255,255,255)"/>
<ellipse cx="38.5" cy="55.2" rx="3.6" ry="3.6" fill="rgb(255,255,255)"/>
<ellipse cx="30" cy="44.5" rx="3.0" ry="3.0" fill="rgb(130,130,130)"/>
<ellipse cx="17" cy="42.2" rx="3.0" ry="3.0" fill="rgb(108,108,108)"/>
<ellipse cx="12.3" cy="37.5" rx="3.0" ry="3.0" fill="rgb(97,97,97)"/>
<ellipse cx="23" cy="37.5" rx="3.0" ry="3.0" fill="rgb(108,108,108)"/>
<ellipse cx="35.4" cy="39" rx="3.0" ry="3.0" fill="rgb(119,119,119)"/>
<ellipse cx="37" cy="61.4" rx="2.64" ry="2.64" fill="rgb(86,86,86)"/>
<ellipse cx="47.5" cy="51.4" rx="4.8" ry="4.8" fill="rgb(255,255,255)"/>
<ellipse cx="49.8" cy="48.3" rx="3.6" ry="3.6" fill="rgb(252,252,252)"/>
<ellipse cx="55.2" cy="53.7" rx="3.6" ry="3.6" fill="rgb(255,255,255)"/>
<ellipse cx="52.2" cy="43" rx="3.0" ry="3.0" fill="rgb(108,108,108)"/>
<ellipse cx="61.4" cy="43" rx="3.0" ry="3.0" fill="rgb(119,119,119)"/>
<ellipse cx="36.8" cy="46.8" rx="3.0" ry="3.0" fill="rgb(108,108,108)"/>
<ellipse cx="28" cy="26" rx="2.4" ry="2.4" fill="rgb(108,108,108)"/>
<ellipse cx="20" cy="24" rx="2.4" ry="2.4" fill="rgb(119,119,119)"/>
<ellipse cx="8" cy="60" rx="3.6" ry="2.4" fill="rgb(26,26,26)"/>
</g></g>
<text x="144" y="192.8" font-size="12" font-weight="700" fill="#fff">J</text>
<text x="144.5" y="255.8" font-size="9.3" fill="#e8e8e8">Plasm</text>
<g clip-path="url(#clipC)">
<rect x="220" y="26" width="76" height="76" fill="#000"/>
<g filter="url(#blC)" transform="translate(220,26)">
<ellipse cx="41.5" cy="36.5" rx="26.5" ry="25.5" fill="rgb(70,100,20)"/>
<circle cx="29" cy="16.5" r="4.20" fill="rgb(232,215,40)"/>
<circle cx="39.3" cy="13.4" r="4.20" fill="rgb(240,180,30)"/>
<circle cx="49" cy="15" r="4.20" fill="rgb(232,215,40)"/>
<circle cx="58" cy="20" r="4.20" fill="rgb(232,215,40)"/>
<circle cx="34" cy="12.8" r="3.00" fill="rgb(70,175,45)"/>
<circle cx="23" cy="14" r="3.60" fill="rgb(165,210,45)"/>
<circle cx="44" cy="11.5" r="3.00" fill="rgb(165,210,45)"/>
<circle cx="53" cy="12" r="3.00" fill="rgb(70,175,45)"/>
<circle cx="19" cy="21.5" r="3.60" fill="rgb(70,175,45)"/>
<circle cx="16.8" cy="32.8" r="4.20" fill="rgb(232,215,40)"/>
<circle cx="18" cy="40" r="4.20" fill="rgb(232,215,40)"/>
<circle cx="21.8" cy="47.8" r="3.60" fill="rgb(240,180,30)"/>
<circle cx="15" cy="27" r="3.60" fill="rgb(165,210,45)"/>
<circle cx="25" cy="53" r="3.60" fill="rgb(232,130,30)"/>
<circle cx="29.3" cy="59" r="4.20" fill="rgb(240,180,30)"/>
<circle cx="44.3" cy="60.3" r="4.20" fill="rgb(232,215,40)"/>
<circle cx="55.5" cy="54" r="4.20" fill="rgb(232,215,40)"/>
<circle cx="45.5" cy="54" r="3.00" fill="rgb(205,40,30)"/>
<circle cx="37" cy="58" r="3.60" fill="rgb(165,210,45)"/>
<circle cx="50" cy="57" r="3.60" fill="rgb(240,180,30)"/>
<circle cx="62" cy="49" r="3.60" fill="rgb(232,215,40)"/>
<circle cx="64" cy="29" r="4.20" fill="rgb(232,215,40)"/>
<circle cx="65.5" cy="39" r="4.20" fill="rgb(232,215,40)"/>
<circle cx="61.8" cy="44" r="3.60" fill="rgb(232,130,30)"/>
<circle cx="62" cy="22" r="3.60" fill="rgb(165,210,45)"/>
<circle cx="29.3" cy="29" r="3.60" fill="rgb(25,105,40)"/>
<circle cx="38" cy="36.5" r="3.60" fill="rgb(25,105,40)"/>
<circle cx="48" cy="26.5" r="3.60" fill="rgb(15,70,25)"/>
<circle cx="52" cy="24" r="2.40" fill="rgb(10,30,10)"/>
<circle cx="51.8" cy="35.3" r="3.60" fill="rgb(70,175,45)"/>
<circle cx="30.5" cy="36.5" r="3.60" fill="rgb(70,175,45)"/>
<circle cx="26.8" cy="41.5" r="2.64" fill="rgb(205,40,30)"/>
<circle cx="45.5" cy="44" r="2.64" fill="rgb(140,70,25)"/>
<circle cx="33" cy="32.8" r="2.64" fill="rgb(20,40,10)"/>
<circle cx="56.8" cy="42.8" r="3.00" fill="rgb(232,130,30)"/>
<circle cx="38" cy="45" r="3.60" fill="rgb(165,210,45)"/>
<circle cx="41.8" cy="22.8" r="3.60" fill="rgb(232,215,40)"/>
<circle cx="33" cy="24" r="3.60" fill="rgb(165,210,45)"/>
<circle cx="56" cy="30" r="3.60" fill="rgb(165,210,45)"/>
<circle cx="24" cy="26" r="3.60" fill="rgb(232,215,40)"/>
<circle cx="43" cy="30" r="3.00" fill="rgb(70,175,45)"/>
<circle cx="35" cy="50" r="3.60" fill="rgb(70,175,45)"/>
<circle cx="55" cy="37" r="3.00" fill="rgb(232,215,40)"/>
<circle cx="27" cy="47" r="3.00" fill="rgb(165,210,45)"/>
<circle cx="20" cy="35" r="3.00" fill="rgb(165,210,45)"/>
<circle cx="60" cy="34" r="3.00" fill="rgb(232,215,40)"/>
<circle cx="50" cy="48" r="3.00" fill="rgb(70,175,45)"/>
<circle cx="40" cy="52" r="3.00" fill="rgb(232,215,40)"/>
</g></g>
<text x="222" y="36.8" font-size="12" font-weight="700" fill="#fff">C</text>
<text x="222.5" y="88.7" font-size="9.3" fill="#e8e8e8">TSP</text>
<text x="222.5" y="99.7" font-size="9.3" fill="#e8e8e8">PF4</text>
<g clip-path="url(#clipG)">
<rect x="220" y="104" width="76" height="76" fill="#000"/>
<g filter="url(#blG)" transform="translate(220,104)">
<ellipse cx="36" cy="37.5" rx="26" ry="25.5" fill="rgb(35,25,5)"/>
<circle cx="26.3" cy="16" r="4.20" fill="rgb(165,210,45)"/>
<circle cx="36.3" cy="14.8" r="4.20" fill="rgb(165,210,45)"/>
<circle cx="45" cy="13.5" r="4.20" fill="rgb(70,175,45)"/>
<circle cx="52.5" cy="18.5" r="4.20" fill="rgb(70,175,45)"/>
<circle cx="20" cy="22" r="3.60" fill="rgb(240,180,30)"/>
<circle cx="31" cy="14" r="3.60" fill="rgb(232,215,40)"/>
<circle cx="57" cy="23" r="3.60" fill="rgb(70,175,45)"/>
<circle cx="57.5" cy="28.5" r="4.20" fill="rgb(232,215,40)"/>
<circle cx="55" cy="36" r="3.60" fill="rgb(240,180,30)"/>
<circle cx="58.8" cy="41" r="4.20" fill="rgb(165,210,45)"/>
<circle cx="56.3" cy="48.5" r="3.60" fill="rgb(70,175,45)"/>
<circle cx="60" cy="34" r="3.00" fill="rgb(232,215,40)"/>
<circle cx="13.8" cy="29.8" r="3.60" fill="rgb(165,210,45)"/>
<circle cx="11.3" cy="36" r="3.60" fill="rgb(232,130,30)"/>
<circle cx="16.5" cy="43" r="4.80" fill="rgb(205,40,30)"/>
<circle cx="21.5" cy="48.5" r="3.84" fill="rgb(205,40,30)"/>
<circle cx="24" cy="42" r="3.00" fill="rgb(150,30,20)"/>
<circle cx="13" cy="42" r="3.60" fill="rgb(205,40,30)"/>
<circle cx="17" cy="33" r="3.00" fill="rgb(70,175,45)"/>
<circle cx="30" cy="56" r="4.20" fill="rgb(232,215,40)"/>
<circle cx="36.3" cy="58.5" r="4.20" fill="rgb(232,215,40)"/>
<circle cx="42.5" cy="57.3" r="4.20" fill="rgb(165,210,45)"/>
<circle cx="48.8" cy="53.5" r="3.60" fill="rgb(165,210,45)"/>
<circle cx="28.8" cy="52.3" r="3.60" fill="rgb(205,40,30)"/>
<circle cx="24" cy="55" r="3.60" fill="rgb(240,180,30)"/>
<circle cx="22.5" cy="31" r="3.60" fill="rgb(70,175,45)"/>
<circle cx="30" cy="26" r="3.00" fill="rgb(120,20,15)"/>
<circle cx="36.3" cy="24.8" r="3.00" fill="rgb(40,15,10)"/>
<circle cx="42.5" cy="28.5" r="3.60" fill="rgb(70,175,45)"/>
<circle cx="47.5" cy="28.5" r="3.60" fill="rgb(70,175,45)"/>
<circle cx="32.5" cy="33.5" r="3.60" fill="rgb(70,175,45)"/>
<circle cx="37.5" cy="36" r="3.60" fill="rgb(70,175,45)"/>
<circle cx="41.3" cy="39.8" r="3.00" fill="rgb(232,215,40)"/>
<circle cx="47.5" cy="43.5" r="3.00" fill="rgb(205,40,30)"/>
<circle cx="50" cy="48.5" r="3.00" fill="rgb(120,20,15)"/>
<circle cx="35" cy="46" r="3.60" fill="rgb(165,210,45)"/>
<circle cx="38.8" cy="43.5" r="3.00" fill="rgb(70,175,45)"/>
<circle cx="26" cy="23" r="3.00" fill="rgb(70,175,45)"/>
<circle cx="45" cy="22" r="3.00" fill="rgb(25,105,40)"/>
<circle cx="52" cy="38" r="3.00" fill="rgb(70,175,45)"/>
<circle cx="30" cy="40" r="3.00" fill="rgb(25,105,40)"/>
<circle cx="68.8" cy="16.6" r="2.40" fill="rgb(205,40,30)"/>
<circle cx="60" cy="11" r="1.80" fill="rgb(80,20,20)"/>
<circle cx="56" cy="64.8" r="1.80" fill="rgb(90,20,20)"/>
<circle cx="64" cy="53" r="1.80" fill="rgb(90,20,20)"/>
</g></g>
<text x="222" y="114.8" font-size="12" font-weight="700" fill="#fff">G</text>
<text x="222.5" y="166.7" font-size="9.3" fill="#e8e8e8">Fibr</text>
<text x="222.5" y="177.7" font-size="9.3" fill="#e8e8e8">TSP</text>
<g clip-path="url(#clipK)">
<rect x="220" y="182" width="76" height="76" fill="#000"/>
<g filter="url(#blK)" transform="translate(220,182)">
<ellipse cx="40" cy="38" rx="27" ry="27" fill="rgb(40,15,8)"/>
<circle cx="21.2" cy="18.8" r="3.60" fill="rgb(57,143,36)"/>
<circle cx="30.6" cy="16.1" r="3.60" fill="rgb(57,143,36)"/>
<circle cx="38.6" cy="10.7" r="3.60" fill="rgb(57,143,36)"/>
<circle cx="45.4" cy="17.5" r="4.20" fill="rgb(57,143,36)"/>
<circle cx="49.4" cy="10.7" r="3.60" fill="rgb(168,32,24)"/>
<circle cx="53.5" cy="8" r="3.00" fill="rgb(168,32,24)"/>
<circle cx="33.3" cy="21.5" r="3.60" fill="rgb(122,122,24)"/>
<circle cx="26.5" cy="24.2" r="3.60" fill="rgb(20,86,32)"/>
<circle cx="18.5" cy="24.2" r="3.60" fill="rgb(168,32,24)"/>
<circle cx="15.8" cy="31" r="4.20" fill="rgb(196,147,24)"/>
<circle cx="18.5" cy="35" r="3.60" fill="rgb(190,106,24)"/>
<circle cx="25.2" cy="31" r="3.60" fill="rgb(122,122,24)"/>
<circle cx="40" cy="24.2" r="3.60" fill="rgb(57,143,36)"/>
<circle cx="46.7" cy="26.9" r="3.60" fill="rgb(168,32,24)"/>
<circle cx="52.1" cy="32.3" r="3.60" fill="rgb(57,143,36)"/>
<circle cx="56.1" cy="29.6" r="3.60" fill="rgb(57,143,36)"/>
<circle cx="42.7" cy="37.6" r="3.84" fill="rgb(57,143,36)"/>
<circle cx="36" cy="33.6" r="3.60" fill="rgb(114,57,20)"/>
<circle cx="29.2" cy="40.3" r="3.60" fill="rgb(168,32,24)"/>
<circle cx="40" cy="44.4" r="4.20" fill="rgb(168,32,24)"/>
<circle cx="50.8" cy="41.7" r="3.60" fill="rgb(168,32,24)"/>
<circle cx="58.8" cy="36.3" r="3.60" fill="rgb(168,32,24)"/>
<circle cx="61.5" cy="43" r="3.60" fill="rgb(168,32,24)"/>
<circle cx="64.2" cy="25.5" r="3.60" fill="rgb(168,32,24)"/>
<circle cx="68.3" cy="36.3" r="3.60" fill="rgb(168,32,24)"/>
<circle cx="23.8" cy="49.8" r="3.60" fill="rgb(57,143,36)"/>
<circle cx="17.1" cy="51.1" r="3.60" fill="rgb(168,32,24)"/>
<circle cx="31.9" cy="48.4" r="3.60" fill="rgb(168,32,24)"/>
<circle cx="31.9" cy="55.1" r="3.60" fill="rgb(57,143,36)"/>
<circle cx="38.6" cy="55.1" r="3.60" fill="rgb(57,143,36)"/>
<circle cx="46.7" cy="55.1" r="3.60" fill="rgb(196,147,24)"/>
<circle cx="48" cy="49.8" r="3.60" fill="rgb(135,172,36)"/>
<circle cx="54.8" cy="53.8" r="3.60" fill="rgb(57,143,36)"/>
<circle cx="64.2" cy="57.8" r="3.60" fill="rgb(168,32,24)"/>
<circle cx="31.9" cy="61.9" r="4.20" fill="rgb(168,32,24)"/>
<circle cx="45.4" cy="70" r="3.00" fill="rgb(168,32,24)"/>
<circle cx="71" cy="55.1" r="3.00" fill="rgb(168,32,24)"/>
<circle cx="66.9" cy="12.1" r="3.00" fill="rgb(168,32,24)"/>
<circle cx="72.3" cy="45.7" r="3.00" fill="rgb(168,32,24)"/>
<circle cx="13" cy="43" r="3.60" fill="rgb(122,122,24)"/>
<circle cx="61.5" cy="18.8" r="3.00" fill="rgb(98,16,12)"/>
<circle cx="36" cy="28" r="3.00" fill="rgb(57,143,36)"/>
<circle cx="34" cy="40" r="3.00" fill="rgb(57,143,36)"/>
<circle cx="45" cy="31" r="3.00" fill="rgb(20,86,32)"/>
<circle cx="57" cy="48" r="3.00" fill="rgb(168,32,24)"/>
<circle cx="25" cy="60" r="3.00" fill="rgb(168,32,24)"/>
<circle cx="38" cy="64" r="3.00" fill="rgb(168,32,24)"/>
<circle cx="55" cy="62" r="3.00" fill="rgb(168,32,24)"/>
<circle cx="70" cy="28" r="2.40" fill="rgb(168,32,24)"/>
<circle cx="60" cy="65" r="2.40" fill="rgb(98,16,12)"/>
<circle cx="10" cy="35" r="3.00" fill="rgb(122,122,24)"/>
</g></g>
<text x="222" y="192.8" font-size="12" font-weight="700" fill="#fff">K</text>
<text x="222.5" y="244.7" font-size="9.3" fill="#e8e8e8">Fibr</text>
<text x="222.5" y="255.7" font-size="9.3" fill="#e8e8e8">Plasm</text>
<rect x="298" y="26" width="76" height="76" fill="#000"/>
<g clip-path="url(#clipD)"><g filter="url(#blD)" transform="translate(298,26)">
<ellipse cx="41.7" cy="49" rx="22" ry="6" fill="rgb(150,28,18)"/>
<ellipse cx="26.6" cy="52" rx="2.4" ry="4.5" fill="rgb(175,30,20)"/>
<ellipse cx="34" cy="51.5" rx="2.4" ry="4.5" fill="rgb(175,30,20)"/>
<ellipse cx="42.3" cy="53" rx="2.4" ry="4.5" fill="rgb(175,30,20)"/>
<ellipse cx="49" cy="51.5" rx="2.4" ry="4.5" fill="rgb(175,30,20)"/>
<ellipse cx="55.4" cy="52.5" rx="2.4" ry="4.5" fill="rgb(175,30,20)"/>
<ellipse cx="20" cy="49" rx="2.4" ry="4.5" fill="rgb(175,30,20)"/>
<ellipse cx="62" cy="49" rx="2.4" ry="4.5" fill="rgb(175,30,20)"/>
<ellipse cx="41.7" cy="25" rx="24" ry="7" fill="rgb(205,55,20)"/>
<ellipse cx="28" cy="21" rx="3" ry="3.6" fill="rgb(200,45,20)"/>
<ellipse cx="34.5" cy="20" rx="3" ry="3.6" fill="rgb(200,45,20)"/>
<ellipse cx="46" cy="20" rx="3" ry="3.6" fill="rgb(200,45,20)"/>
<ellipse cx="56.7" cy="21.5" rx="3" ry="3.6" fill="rgb(200,45,20)"/>
<ellipse cx="63.2" cy="24" rx="3" ry="3.6" fill="rgb(200,45,20)"/>
<ellipse cx="21" cy="24" rx="3" ry="3.6" fill="rgb(200,45,20)"/>
<ellipse cx="40" cy="21.5" rx="3" ry="3.6" fill="rgb(200,45,20)"/>
<ellipse cx="51" cy="21" rx="3" ry="3.6" fill="rgb(200,45,20)"/>
<ellipse cx="41.7" cy="37" rx="27.6" ry="14" fill="rgb(228,205,38)"/>
<ellipse cx="15.5" cy="37.7" rx="1.2" ry="5.4" fill="rgb(232,215,40)" opacity="0.9"/>
<ellipse cx="18.2" cy="37.8" rx="1.3" ry="12.4" fill="rgb(232,130,30)" opacity="0.9"/>
<ellipse cx="20.6" cy="36.5" rx="1.1" ry="10.7" fill="rgb(165,210,45)" opacity="0.9"/>
<ellipse cx="23.4" cy="37.1" rx="1.8" ry="15.5" fill="rgb(232,130,30)" opacity="0.9"/>
<ellipse cx="25.5" cy="35.8" rx="1.6" ry="13.9" fill="rgb(232,130,30)" opacity="0.9"/>
<ellipse cx="27.9" cy="35.6" rx="1.7" ry="14.9" fill="rgb(232,215,40)" opacity="0.9"/>
<ellipse cx="30.4" cy="38.7" rx="1.2" ry="14.1" fill="rgb(232,130,30)" opacity="0.9"/>
<ellipse cx="33.0" cy="39.3" rx="1.3" ry="14.3" fill="rgb(120,195,45)" opacity="0.9"/>
<ellipse cx="34.9" cy="38.3" rx="1.6" ry="15.8" fill="rgb(240,180,30)" opacity="0.9"/>
<ellipse cx="37.7" cy="36.9" rx="1.8" ry="16.2" fill="rgb(232,130,30)" opacity="0.9"/>
<ellipse cx="39.8" cy="38.2" rx="1.8" ry="16.0" fill="rgb(240,180,30)" opacity="0.9"/>
<ellipse cx="42.4" cy="38.7" rx="1.5" ry="14.0" fill="rgb(232,215,40)" opacity="0.9"/>
<ellipse cx="44.6" cy="36.9" rx="1.8" ry="17.1" fill="rgb(232,215,40)" opacity="0.9"/>
<ellipse cx="46.4" cy="36.1" rx="1.6" ry="14.1" fill="rgb(165,210,45)" opacity="0.9"/>
<ellipse cx="48.6" cy="36.5" rx="1.6" ry="16.0" fill="rgb(232,130,30)" opacity="0.9"/>
<ellipse cx="50.5" cy="37.6" rx="1.2" ry="15.7" fill="rgb(232,215,40)" opacity="0.9"/>
<ellipse cx="52.8" cy="35.8" rx="1.7" ry="16.5" fill="rgb(165,210,45)" opacity="0.9"/>
<ellipse cx="55.4" cy="36.4" rx="1.2" ry="13.5" fill="rgb(200,210,40)" opacity="0.9"/>
<ellipse cx="58.0" cy="39.0" rx="1.2" ry="13.6" fill="rgb(232,215,40)" opacity="0.9"/>
<ellipse cx="60.7" cy="35.8" rx="1.2" ry="14.3" fill="rgb(200,210,40)" opacity="0.9"/>
<ellipse cx="63.4" cy="35.7" rx="1.2" ry="12.1" fill="rgb(240,180,30)" opacity="0.9"/>
<ellipse cx="65.4" cy="37.0" rx="1.6" ry="13.0" fill="rgb(232,215,40)" opacity="0.9"/>
<ellipse cx="67.9" cy="38.8" rx="1.5" ry="5.5" fill="rgb(120,195,45)" opacity="0.9"/>
<ellipse cx="22.7" cy="37.0" rx="1.7" ry="10.0" fill="rgb(165,210,45)"/>
<ellipse cx="35.8" cy="36.0" rx="1.7" ry="10.0" fill="rgb(165,210,45)"/>
<ellipse cx="51.4" cy="36.0" rx="1.7" ry="10.0" fill="rgb(120,195,45)"/>
<ellipse cx="67" cy="37.0" rx="1.7" ry="7.0" fill="rgb(70,175,45)"/>
</g></g>
<g stroke="#d0d0b8" stroke-width="0.75" opacity="0.9"><line x1="322.3" y1="37.3" x2="371.3" y2="37.3"/>
<line x1="322.8" y1="35.3" x2="322.8" y2="39.6"/>
<line x1="332.5" y1="35.3" x2="332.5" y2="39.6"/>
<line x1="342.2" y1="35.3" x2="342.2" y2="39.6"/>
<line x1="351.9" y1="35.3" x2="351.9" y2="39.6"/>
<line x1="361.6" y1="35.3" x2="361.6" y2="39.6"/>
<line x1="371.3" y1="35.3" x2="371.3" y2="39.6"/>
</g>
<text x="346.1" y="34.2" font-size="5.6" fill="#c8c8c0" text-anchor="middle">5.00 µm</text>
<text x="300" y="36.8" font-size="12" font-weight="700" fill="#fff">D</text>
<text x="300.5" y="88.7" font-size="9.3" fill="#e8e8e8">TSP</text>
<text x="300.5" y="99.7" font-size="9.3" fill="#e8e8e8">PF4</text>
<rect x="298" y="104" width="76" height="76" fill="#000"/>
<g clip-path="url(#clipH)"><g filter="url(#blH)" transform="translate(298,104)">
<rect x="10.5" y="26" width="51.5" height="23" rx="3" fill="rgb(225,205,35)"/>
<rect x="10.5" y="38" width="51.5" height="11" fill="url(#gHbot)"/>
<ellipse cx="12" cy="30.0" rx="2.2" ry="4.0" fill="rgb(205,45,25)"/>
<ellipse cx="15" cy="26.5" rx="2.4" ry="4.5" fill="rgb(205,45,25)"/>
<ellipse cx="19" cy="24.0" rx="2.6" ry="6.0" fill="rgb(205,45,25)"/>
<ellipse cx="23" cy="22.75" rx="2.6" ry="6.25" fill="rgb(205,45,25)"/>
<ellipse cx="27" cy="22.5" rx="2.4" ry="5.5" fill="rgb(205,45,25)"/>
<ellipse cx="31" cy="22.5" rx="2.6" ry="6.5" fill="rgb(205,45,25)"/>
<ellipse cx="35" cy="22.75" rx="2.4" ry="5.25" fill="rgb(205,45,25)"/>
<ellipse cx="39" cy="21.5" rx="2.4" ry="5.5" fill="rgb(205,45,25)"/>
<ellipse cx="43" cy="22.5" rx="2.2" ry="4.5" fill="rgb(205,45,25)"/>
<ellipse cx="46" cy="21.0" rx="2" ry="4.0" fill="rgb(205,45,25)"/>
<ellipse cx="56" cy="23.0" rx="2.2" ry="4.0" fill="rgb(205,45,25)"/>
<ellipse cx="59" cy="26.0" rx="2.2" ry="3.0" fill="rgb(205,45,25)"/>
<ellipse cx="13.3" cy="28.1" rx="1.8" ry="3" fill="rgb(235,130,30)" opacity="0.8"/>
<ellipse cx="16.6" cy="28.7" rx="1.8" ry="3" fill="rgb(235,130,30)" opacity="0.8"/>
<ellipse cx="21.5" cy="30.0" rx="1.8" ry="3" fill="rgb(235,130,30)" opacity="0.8"/>
<ellipse cx="25.8" cy="28.3" rx="1.8" ry="3" fill="rgb(235,130,30)" opacity="0.8"/>
<ellipse cx="28.8" cy="28.1" rx="1.8" ry="3" fill="rgb(235,130,30)" opacity="0.8"/>
<ellipse cx="32.4" cy="29.5" rx="1.8" ry="3" fill="rgb(235,130,30)" opacity="0.8"/>
<ellipse cx="36.1" cy="28.6" rx="1.8" ry="3" fill="rgb(235,130,30)" opacity="0.8"/>
<ellipse cx="41.3" cy="29.6" rx="1.8" ry="3" fill="rgb(235,130,30)" opacity="0.8"/>
<ellipse cx="44.4" cy="29.8" rx="1.8" ry="3" fill="rgb(235,130,30)" opacity="0.8"/>
<ellipse cx="55.6" cy="28.0" rx="1.8" ry="3" fill="rgb(235,130,30)" opacity="0.8"/>
<ellipse cx="59.6" cy="30.1" rx="1.8" ry="3" fill="rgb(235,130,30)" opacity="0.8"/>
<ellipse cx="48.5" cy="31.5" rx="1.4" ry="14.5" fill="rgb(90, 185, 45)"/>
<ellipse cx="51.5" cy="32.5" rx="1.4" ry="13.5" fill="rgb(130, 200, 40)"/>
<ellipse cx="53.5" cy="33.5" rx="1.4" ry="12.5" fill="rgb(80, 180, 45)"/>
<ellipse cx="44" cy="34.0" rx="1.4" ry="10.0" fill="rgb(170, 205, 40)"/>
<ellipse cx="39" cy="36.0" rx="1.4" ry="9.0" fill="rgb(200, 215, 40)"/>
<ellipse cx="30" cy="36.5" rx="1.4" ry="8.5" fill="rgb(170, 205, 40)"/>
<ellipse cx="22" cy="37.5" rx="1.4" ry="7.5" fill="rgb(150, 200, 40)"/>
<ellipse cx="58" cy="35.0" rx="1.4" ry="10.0" fill="rgb(120, 195, 40)"/>
<ellipse cx="17" cy="36" rx="1.3" ry="6" fill="rgb(245,225,50)"/>
<ellipse cx="26" cy="36" rx="1.3" ry="6" fill="rgb(245,225,50)"/>
<ellipse cx="34" cy="36" rx="1.3" ry="6" fill="rgb(245,225,50)"/>
<ellipse cx="42" cy="36" rx="1.3" ry="6" fill="rgb(245,225,50)"/>
<ellipse cx="57" cy="36" rx="1.3" ry="6" fill="rgb(245,225,50)"/>
<rect x="20" y="20" width="0.7" height="24" fill="#000" opacity="0.35"/>
<rect x="28.5" y="20" width="0.7" height="24" fill="#000" opacity="0.35"/>
<rect x="36.5" y="20" width="0.7" height="24" fill="#000" opacity="0.35"/>
<rect x="46.5" y="20" width="0.7" height="24" fill="#000" opacity="0.35"/>
<rect x="55" y="20" width="0.7" height="24" fill="#000" opacity="0.35"/>
</g></g>
<g filter="url(#blH)" transform="translate(298,104)">
<ellipse cx="1.5" cy="41.7" rx="2" ry="3.5" fill="rgb(200,35,40)"/>
<ellipse cx="69.5" cy="44.5" rx="2.5" ry="5" fill="rgb(200,35,40)"/>
</g>
<g stroke="#d0d0b8" stroke-width="0.75" opacity="0.9"><line x1="322.3" y1="115.3" x2="371.3" y2="115.3"/>
<line x1="322.8" y1="113.3" x2="322.8" y2="117.6"/>
<line x1="332.5" y1="113.3" x2="332.5" y2="117.6"/>
<line x1="342.2" y1="113.3" x2="342.2" y2="117.6"/>
<line x1="351.9" y1="113.3" x2="351.9" y2="117.6"/>
<line x1="361.6" y1="113.3" x2="361.6" y2="117.6"/>
<line x1="371.3" y1="113.3" x2="371.3" y2="117.6"/>
</g>
<text x="346.1" y="112.2" font-size="5.6" fill="#c8c8c0" text-anchor="middle">5.00 µm</text>
<text x="300" y="114.8" font-size="12" font-weight="700" fill="#fff">H</text>
<text x="300.5" y="166.7" font-size="9.3" fill="#e8e8e8">Fibr</text>
<text x="300.5" y="177.7" font-size="9.3" fill="#e8e8e8">TSP</text>
<rect x="298" y="182" width="76" height="76" fill="#000"/>
<g clip-path="url(#clipL)"><g filter="url(#blL)" transform="translate(298,182)">
<rect x="5" y="44" width="66" height="8" fill="rgb(210,120,30)"/>
<rect x="40" y="42" width="16" height="10" fill="rgb(230,200,40)"/>
<rect x="0" y="43" width="8" height="9" fill="rgb(180,30,30)"/>
<rect x="60" y="42" width="16" height="10" fill="rgb(190,35,30)"/>
<ellipse cx="2.9" cy="52" rx="3.3" ry="13.200000000000003" fill="url(#gFR)"/>
<ellipse cx="13.2" cy="52" rx="3.3" ry="28" fill="url(#gFG)"/>
<ellipse cx="19" cy="52" rx="3.3" ry="35.2" fill="url(#gFR)"/>
<ellipse cx="24" cy="52" rx="3.3" ry="32.2" fill="url(#gFG)"/>
<ellipse cx="30.7" cy="52" rx="3.3" ry="30.8" fill="url(#gFO)"/>
<ellipse cx="36.5" cy="52" rx="3.3" ry="35.2" fill="url(#gFG)"/>
<ellipse cx="39.5" cy="52" rx="3.3" ry="28" fill="url(#gFG)"/>
<ellipse cx="46.8" cy="52" rx="3.3" ry="20.5" fill="url(#gFY)"/>
<ellipse cx="50.4" cy="52" rx="3.3" ry="36.6" fill="url(#gFO)"/>
<ellipse cx="55.6" cy="52" rx="3.3" ry="25" fill="url(#gFG)"/>
<ellipse cx="61.4" cy="52" rx="3.3" ry="19" fill="url(#gFR)"/>
<ellipse cx="67.3" cy="52" rx="3.3" ry="17.6" fill="url(#gFR)"/>
<ellipse cx="73" cy="52" rx="3.3" ry="12" fill="url(#gFR)"/>
<ellipse cx="8" cy="52" rx="3.3" ry="16" fill="url(#gFO)"/>
<ellipse cx="27" cy="52" rx="3.3" ry="24" fill="url(#gFR)"/>
<ellipse cx="43" cy="52" rx="3.3" ry="26" fill="url(#gFO)"/>
<ellipse cx="58" cy="52" rx="3.3" ry="21" fill="url(#gFY)"/>
<ellipse cx="33" cy="52" rx="3.3" ry="20" fill="url(#gFY)"/>
</g></g>
<g stroke="#d0d0b8" stroke-width="0.75" opacity="0.9"><line x1="322.3" y1="193.3" x2="371.3" y2="193.3"/>
<line x1="322.8" y1="191.3" x2="322.8" y2="195.6"/>
<line x1="332.5" y1="191.3" x2="332.5" y2="195.6"/>
<line x1="342.2" y1="191.3" x2="342.2" y2="195.6"/>
<line x1="351.9" y1="191.3" x2="351.9" y2="195.6"/>
<line x1="361.6" y1="191.3" x2="361.6" y2="195.6"/>
<line x1="371.3" y1="191.3" x2="371.3" y2="195.6"/>
</g>
<text x="346.1" y="190.2" font-size="5.6" fill="#c8c8c0" text-anchor="middle">5.00 µm</text>
<text x="300" y="192.8" font-size="12" font-weight="700" fill="#fff">L</text>
<text x="300.5" y="244.7" font-size="9.3" fill="#e8e8e8">Fibr</text>
<text x="300.5" y="255.7" font-size="9.3" fill="#e8e8e8">Plasm</text>
<g clip-path="url(#clipM)">
<rect x="62" y="263" width="155" height="19.5" fill="#000"/>
<g filter="url(#blM)" transform="translate(62,263)">
<circle cx="13.8" cy="15.5" r="1.0" fill="rgb(205,40,30)" opacity="0.39"/>
<circle cx="28.1" cy="15.3" r="1.0" fill="rgb(232,215,40)" opacity="0.65"/>
<circle cx="56.0" cy="15.6" r="1.2" fill="rgb(232,130,30)" opacity="0.43"/>
<circle cx="51.6" cy="15.7" r="0.9" fill="rgb(232,130,30)" opacity="0.73"/>
<circle cx="39.2" cy="14.9" r="1.3" fill="rgb(70,175,45)" opacity="0.45"/>
<circle cx="60.1" cy="15.6" r="1.3" fill="rgb(205,40,30)" opacity="0.57"/>
<circle cx="75.0" cy="15.1" r="1.0" fill="rgb(70,175,45)" opacity="0.67"/>
<circle cx="37.5" cy="13.5" r="1.3" fill="rgb(232,130,30)" opacity="0.70"/>
<circle cx="55.3" cy="15.0" r="1.0" fill="rgb(70,175,45)" opacity="0.61"/>
<circle cx="27.2" cy="16.8" r="1.1" fill="rgb(205,40,30)" opacity="0.47"/>
<circle cx="50.2" cy="12.6" r="1.5" fill="rgb(70,175,45)" opacity="0.74"/>
<circle cx="77.6" cy="14.7" r="1.4" fill="rgb(165,210,45)" opacity="0.57"/>
<circle cx="73.8" cy="15.1" r="1.0" fill="rgb(232,215,40)" opacity="0.72"/>
<circle cx="52.1" cy="13.6" r="1.3" fill="rgb(232,130,30)" opacity="0.46"/>
<circle cx="32.9" cy="15.9" r="1.2" fill="rgb(232,130,30)" opacity="0.67"/>
<circle cx="41.9" cy="12.2" r="1.2" fill="rgb(205,40,30)" opacity="0.40"/>
<circle cx="19.4" cy="15.2" r="1.0" fill="rgb(70,175,45)" opacity="0.41"/>
<circle cx="77.4" cy="14.4" r="1.2" fill="rgb(232,215,40)" opacity="0.55"/>
<circle cx="64.2" cy="14.3" r="1.3" fill="rgb(232,130,30)" opacity="0.37"/>
<circle cx="20.3" cy="15.7" r="1.4" fill="rgb(232,215,40)" opacity="0.59"/>
<circle cx="45.3" cy="14.6" r="1.4" fill="rgb(232,130,30)" opacity="0.74"/>
<circle cx="35.7" cy="14.2" r="1.0" fill="rgb(205,40,30)" opacity="0.58"/>
<circle cx="42.0" cy="15.2" r="1.5" fill="rgb(205,40,30)" opacity="0.70"/>
<circle cx="64.3" cy="14.5" r="1.3" fill="rgb(165,210,45)" opacity="0.57"/>
<circle cx="49.3" cy="12.5" r="1.0" fill="rgb(205,40,30)" opacity="0.43"/>
<circle cx="52.9" cy="14.3" r="1.3" fill="rgb(165,210,45)" opacity="0.54"/>
<circle cx="21.7" cy="16.1" r="1.5" fill="rgb(70,175,45)" opacity="0.63"/>
<circle cx="50.7" cy="16.1" r="0.9" fill="rgb(232,215,40)" opacity="0.62"/>
<circle cx="60.6" cy="14.8" r="1.0" fill="rgb(165,210,45)" opacity="0.71"/>
<circle cx="33.0" cy="15.4" r="1.5" fill="rgb(70,175,45)" opacity="0.46"/>
<circle cx="74.1" cy="15.9" r="1.1" fill="rgb(165,210,45)" opacity="0.43"/>
<circle cx="65.9" cy="14.8" r="1.0" fill="rgb(70,175,45)" opacity="0.36"/>
<circle cx="41.8" cy="14.2" r="1.1" fill="rgb(70,175,45)" opacity="0.63"/>
<circle cx="36.9" cy="13.6" r="0.9" fill="rgb(70,175,45)" opacity="0.45"/>
<circle cx="53.6" cy="13.0" r="1.3" fill="rgb(165,210,45)" opacity="0.52"/>
<circle cx="17.4" cy="14.7" r="1.1" fill="rgb(232,215,40)" opacity="0.54"/>
<circle cx="13.4" cy="15.8" r="1.1" fill="rgb(165,210,45)" opacity="0.72"/>
<circle cx="50.7" cy="14.5" r="1.4" fill="rgb(205,40,30)" opacity="0.74"/>
<circle cx="28.5" cy="15.7" r="1.4" fill="rgb(70,175,45)" opacity="0.62"/>
<circle cx="59.0" cy="15.9" r="1.1" fill="rgb(205,40,30)" opacity="0.57"/>
<circle cx="74.2" cy="13.8" r="1.1" fill="rgb(165,210,45)" opacity="0.51"/>
<circle cx="57.0" cy="13.1" r="1.4" fill="rgb(70,175,45)" opacity="0.37"/>
<circle cx="50.1" cy="15.4" r="1.3" fill="rgb(205,40,30)" opacity="0.48"/>
<circle cx="76.9" cy="14.3" r="1.1" fill="rgb(205,40,30)" opacity="0.64"/>
<circle cx="62.4" cy="12.5" r="1.1" fill="rgb(165,210,45)" opacity="0.37"/>
<circle cx="39.6" cy="15.5" r="1.2" fill="rgb(232,130,30)" opacity="0.38"/>
<circle cx="45.1" cy="13.5" r="1.3" fill="rgb(232,130,30)" opacity="0.35"/>
<circle cx="57.1" cy="14.7" r="1.0" fill="rgb(70,175,45)" opacity="0.75"/>
<circle cx="43.2" cy="12.6" r="1.4" fill="rgb(205,40,30)" opacity="0.48"/>
<circle cx="38.3" cy="16.9" r="1.0" fill="rgb(205,40,30)" opacity="0.37"/>
<circle cx="69.5" cy="12.0" r="1.2" fill="rgb(205,40,30)" opacity="0.51"/>
<circle cx="66.1" cy="15.4" r="1.2" fill="rgb(70,175,45)" opacity="0.57"/>
<circle cx="64.0" cy="13.8" r="1.4" fill="rgb(165,210,45)" opacity="0.70"/>
<circle cx="21.1" cy="14.7" r="1.2" fill="rgb(205,40,30)" opacity="0.46"/>
<circle cx="35.1" cy="16.5" r="1.3" fill="rgb(165,210,45)" opacity="0.68"/>
<circle cx="40.3" cy="13.4" r="1.0" fill="rgb(232,130,30)" opacity="0.44"/>
<circle cx="29.9" cy="15.2" r="1.3" fill="rgb(232,130,30)" opacity="0.47"/>
<circle cx="56.2" cy="14.1" r="1.2" fill="rgb(232,130,30)" opacity="0.38"/>
<circle cx="19.1" cy="15.0" r="1.2" fill="rgb(232,130,30)" opacity="0.41"/>
<circle cx="41.3" cy="13.0" r="0.9" fill="rgb(232,215,40)" opacity="0.59"/>
<circle cx="33.4" cy="15.4" r="1.0" fill="rgb(70,175,45)" opacity="0.63"/>
<circle cx="52.7" cy="13.2" r="1.2" fill="rgb(70,175,45)" opacity="0.59"/>
<circle cx="62.9" cy="14.4" r="1.3" fill="rgb(205,40,30)" opacity="0.57"/>
<circle cx="68.6" cy="16.1" r="1.3" fill="rgb(165,210,45)" opacity="0.61"/>
<circle cx="23.9" cy="14.2" r="1.2" fill="rgb(232,215,40)" opacity="0.74"/>
<circle cx="24.2" cy="13.8" r="1.3" fill="rgb(232,215,40)" opacity="0.58"/>
<circle cx="65.1" cy="13.6" r="1.1" fill="rgb(232,130,30)" opacity="0.55"/>
<circle cx="56.1" cy="14.6" r="1.3" fill="rgb(70,175,45)" opacity="0.54"/>
<circle cx="33.0" cy="14.7" r="1.3" fill="rgb(232,130,30)" opacity="0.49"/>
<circle cx="68.8" cy="15.1" r="1.4" fill="rgb(232,130,30)" opacity="0.71"/>
<circle cx="52.0" cy="14.7" r="1.4" fill="rgb(205,40,30)" opacity="0.69"/>
<circle cx="35.6" cy="14.1" r="1.0" fill="rgb(232,215,40)" opacity="0.50"/>
<circle cx="40.0" cy="11.2" r="1.4" fill="rgb(205,40,30)" opacity="0.38"/>
<circle cx="39.3" cy="14.2" r="1.0" fill="rgb(165,210,45)" opacity="0.36"/>
<circle cx="17.8" cy="16.7" r="1.1" fill="rgb(232,130,30)" opacity="0.45"/>
<circle cx="69.5" cy="17.3" r="1.5" fill="rgb(232,130,30)" opacity="0.49"/>
<circle cx="39.8" cy="14.0" r="1.5" fill="rgb(232,215,40)" opacity="0.63"/>
<circle cx="54.1" cy="11.9" r="1.5" fill="rgb(70,175,45)" opacity="0.58"/>
<circle cx="22.7" cy="13.8" r="1.4" fill="rgb(232,130,30)" opacity="0.46"/>
<circle cx="25.2" cy="12.7" r="1.1" fill="rgb(70,175,45)" opacity="0.41"/>
<circle cx="43.4" cy="13.9" r="1.3" fill="rgb(70,175,45)" opacity="0.73"/>
<circle cx="76.0" cy="15.2" r="1.1" fill="rgb(232,130,30)" opacity="0.61"/>
<circle cx="26.0" cy="13.1" r="0.9" fill="rgb(205,40,30)" opacity="0.56"/>
<circle cx="47.4" cy="15.3" r="1.2" fill="rgb(232,130,30)" opacity="0.55"/>
<circle cx="58.6" cy="16.9" r="1.2" fill="rgb(232,130,30)" opacity="0.56"/>
<circle cx="48.9" cy="13.7" r="1.0" fill="rgb(205,40,30)" opacity="0.63"/>
<circle cx="76.5" cy="15.5" r="1.1" fill="rgb(205,40,30)" opacity="0.53"/>
<circle cx="23.3" cy="14.1" r="1.1" fill="rgb(70,175,45)" opacity="0.62"/>
<circle cx="75.2" cy="15.8" r="1.1" fill="rgb(165,210,45)" opacity="0.45"/>
<circle cx="30.8" cy="15.9" r="0.9" fill="rgb(232,130,30)" opacity="0.51"/>
<circle cx="79.5" cy="14.2" r="1.6" fill="rgb(70,175,45)" opacity="0.44"/>
<circle cx="102.4" cy="13.9" r="1.6" fill="rgb(25,105,40)" opacity="0.35"/>
<circle cx="90.2" cy="16.4" r="1.1" fill="rgb(25,105,40)" opacity="0.34"/>
<circle cx="83.5" cy="13.9" r="0.9" fill="rgb(70,175,45)" opacity="0.36"/>
<circle cx="79.6" cy="13.5" r="1.4" fill="rgb(70,175,45)" opacity="0.53"/>
<circle cx="91.7" cy="14.2" r="0.9" fill="rgb(70,175,45)" opacity="0.47"/>
<circle cx="83.5" cy="15.9" r="0.9" fill="rgb(70,175,45)" opacity="0.55"/>
<circle cx="89.6" cy="15.8" r="1.1" fill="rgb(25,105,40)" opacity="0.55"/>
<circle cx="91.3" cy="12.0" r="1.5" fill="rgb(70,175,45)" opacity="0.55"/>
<circle cx="109.8" cy="12.2" r="1.1" fill="rgb(165,210,45)" opacity="0.44"/>
<circle cx="102.7" cy="14.8" r="1.5" fill="rgb(70,175,45)" opacity="0.51"/>
<circle cx="107.8" cy="16.3" r="1.3" fill="rgb(70,175,45)" opacity="0.34"/>
<circle cx="94.4" cy="15.7" r="1.4" fill="rgb(70,175,45)" opacity="0.42"/>
<circle cx="99.1" cy="16.0" r="1.4" fill="rgb(70,175,45)" opacity="0.44"/>
<circle cx="97.0" cy="14.0" r="1.3" fill="rgb(165,210,45)" opacity="0.33"/>
<circle cx="98.2" cy="16.3" r="1.2" fill="rgb(70,175,45)" opacity="0.57"/>
<circle cx="107.3" cy="14.5" r="1.4" fill="rgb(70,175,45)" opacity="0.55"/>
<circle cx="106.9" cy="16.3" r="0.9" fill="rgb(25,105,40)" opacity="0.56"/>
<circle cx="102.1" cy="13.5" r="1.0" fill="rgb(25,105,40)" opacity="0.40"/>
<circle cx="81.4" cy="15.2" r="1.3" fill="rgb(165,210,45)" opacity="0.56"/>
<circle cx="101.1" cy="11.1" r="1.3" fill="rgb(70,175,45)" opacity="0.52"/>
<circle cx="109.1" cy="13.5" r="1.3" fill="rgb(70,175,45)" opacity="0.56"/>
<circle cx="103.2" cy="12.5" r="1.1" fill="rgb(25,105,40)" opacity="0.58"/>
<circle cx="93.7" cy="14.3" r="1.3" fill="rgb(70,175,45)" opacity="0.55"/>
<circle cx="98.3" cy="14.9" r="1.0" fill="rgb(25,105,40)" opacity="0.55"/>
<circle cx="89.1" cy="16.1" r="1.2" fill="rgb(25,105,40)" opacity="0.59"/>
<circle cx="104.0" cy="12.7" r="1.6" fill="rgb(70,175,45)" opacity="0.48"/>
<circle cx="104.9" cy="16.0" r="1.2" fill="rgb(70,175,45)" opacity="0.51"/>
<circle cx="95.0" cy="12.6" r="1.0" fill="rgb(70,175,45)" opacity="0.55"/>
<circle cx="104.8" cy="12.9" r="1.3" fill="rgb(70,175,45)" opacity="0.57"/>
<circle cx="91.8" cy="12.8" r="1.4" fill="rgb(165,210,45)" opacity="0.46"/>
<circle cx="102.6" cy="15.2" r="1.3" fill="rgb(70,175,45)" opacity="0.37"/>
<circle cx="110.8" cy="10.7" r="1.1" fill="rgb(25,105,40)" opacity="0.36"/>
<circle cx="78.6" cy="16.6" r="1.3" fill="rgb(25,105,40)" opacity="0.33"/>
<circle cx="90.2" cy="11.8" r="1.3" fill="rgb(70,175,45)" opacity="0.41"/>
<circle cx="85.1" cy="13.5" r="1.3" fill="rgb(25,105,40)" opacity="0.49"/>
<circle cx="93.3" cy="15.1" r="1.3" fill="rgb(70,175,45)" opacity="0.56"/>
<circle cx="97.8" cy="13.8" r="1.0" fill="rgb(25,105,40)" opacity="0.32"/>
<circle cx="107.5" cy="13.9" r="1.0" fill="rgb(25,105,40)" opacity="0.52"/>
<circle cx="96.1" cy="12.8" r="1.6" fill="rgb(70,175,45)" opacity="0.40"/>
<circle cx="107.4" cy="13.0" r="0.9" fill="rgb(70,175,45)" opacity="0.45"/>
<circle cx="113.0" cy="11.5" r="1.1" fill="rgb(25,105,40)" opacity="0.34"/>
<circle cx="81.6" cy="15.6" r="1.2" fill="rgb(165,210,45)" opacity="0.58"/>
<circle cx="105.2" cy="14.2" r="1.5" fill="rgb(25,105,40)" opacity="0.59"/>
<circle cx="87.7" cy="17.5" r="1.1" fill="rgb(165,210,45)" opacity="0.41"/>
<circle cx="106.5" cy="13.4" r="1.1" fill="rgb(70,175,45)" opacity="0.52"/>
<circle cx="105.3" cy="13.5" r="1.3" fill="rgb(25,105,40)" opacity="0.50"/>
<circle cx="87.1" cy="13.8" r="1.1" fill="rgb(70,175,45)" opacity="0.37"/>
<circle cx="99.6" cy="15.2" r="1.5" fill="rgb(165,210,45)" opacity="0.31"/>
<circle cx="104.8" cy="17.0" r="1.5" fill="rgb(70,175,45)" opacity="0.36"/>
<circle cx="155.5" cy="11.8" r="1.5" fill="rgb(205,40,30)" opacity="0.81"/>
<circle cx="129.2" cy="9.2" r="1.4" fill="rgb(120,20,15)" opacity="0.55"/>
<circle cx="125.7" cy="8.3" r="1.7" fill="rgb(240,180,30)" opacity="0.73"/>
<circle cx="125.7" cy="9.6" r="1.8" fill="rgb(240,180,30)" opacity="0.72"/>
<circle cx="123.3" cy="7.4" r="1.7" fill="rgb(232,130,30)" opacity="0.66"/>
<circle cx="137.3" cy="10.0" r="1.3" fill="rgb(232,130,30)" opacity="0.65"/>
<circle cx="115.1" cy="4.9" r="1.6" fill="rgb(205,40,30)" opacity="0.82"/>
<circle cx="139.8" cy="10.5" r="1.2" fill="rgb(120,20,15)" opacity="0.84"/>
<circle cx="151.7" cy="11.7" r="1.0" fill="rgb(70,175,45)" opacity="0.72"/>
<circle cx="147.5" cy="9.1" r="1.7" fill="rgb(205,40,30)" opacity="0.84"/>
<circle cx="140.5" cy="7.9" r="1.8" fill="rgb(240,180,30)" opacity="0.62"/>
<circle cx="120.9" cy="11.6" r="1.4" fill="rgb(205,40,30)" opacity="0.80"/>
<circle cx="147.3" cy="11.7" r="1.1" fill="rgb(205,40,30)" opacity="0.49"/>
<circle cx="129.5" cy="10.1" r="1.1" fill="rgb(120,20,15)" opacity="0.52"/>
<circle cx="126.1" cy="7.8" r="1.3" fill="rgb(70,175,45)" opacity="0.47"/>
<circle cx="148.5" cy="9.3" r="1.4" fill="rgb(205,40,30)" opacity="0.79"/>
<circle cx="139.2" cy="4.3" r="1.4" fill="rgb(205,40,30)" opacity="0.70"/>
<circle cx="144.2" cy="9.6" r="1.1" fill="rgb(240,180,30)" opacity="0.67"/>
<circle cx="126.6" cy="11.5" r="1.3" fill="rgb(205,40,30)" opacity="0.48"/>
<circle cx="154.9" cy="5.1" r="1.6" fill="rgb(205,40,30)" opacity="0.60"/>
<circle cx="116.4" cy="11.9" r="1.3" fill="rgb(240,180,30)" opacity="0.60"/>
<circle cx="143.2" cy="7.5" r="1.4" fill="rgb(232,130,30)" opacity="0.59"/>
<circle cx="118.2" cy="6.7" r="1.4" fill="rgb(205,40,30)" opacity="0.75"/>
<circle cx="129.5" cy="10.6" r="1.8" fill="rgb(240,180,30)" opacity="0.65"/>
<circle cx="145.7" cy="10.5" r="1.8" fill="rgb(205,40,30)" opacity="0.46"/>
<circle cx="136.7" cy="8.1" r="1.7" fill="rgb(205,40,30)" opacity="0.55"/>
<circle cx="146.6" cy="11.4" r="1.8" fill="rgb(70,175,45)" opacity="0.45"/>
<circle cx="146.2" cy="8.3" r="1.7" fill="rgb(70,175,45)" opacity="0.62"/>
<circle cx="153.3" cy="10.9" r="1.1" fill="rgb(205,40,30)" opacity="0.81"/>
<circle cx="124.7" cy="7.7" r="1.3" fill="rgb(205,40,30)" opacity="0.83"/>
<circle cx="113.0" cy="7.6" r="1.8" fill="rgb(120,20,15)" opacity="0.74"/>
<circle cx="144.4" cy="8.1" r="1.1" fill="rgb(232,130,30)" opacity="0.55"/>
<circle cx="139.2" cy="9.2" r="1.5" fill="rgb(205,40,30)" opacity="0.82"/>
<circle cx="116.9" cy="8.4" r="1.4" fill="rgb(120,20,15)" opacity="0.51"/>
<circle cx="147.3" cy="4.3" r="1.8" fill="rgb(70,175,45)" opacity="0.51"/>
<circle cx="121.9" cy="10.8" r="1.0" fill="rgb(240,180,30)" opacity="0.71"/>
<circle cx="131.9" cy="12.7" r="1.3" fill="rgb(205,40,30)" opacity="0.64"/>
<circle cx="153.8" cy="9.8" r="1.8" fill="rgb(240,180,30)" opacity="0.57"/>
<circle cx="136.7" cy="7.1" r="1.1" fill="rgb(232,130,30)" opacity="0.53"/>
<circle cx="117.5" cy="6.9" r="1.4" fill="rgb(205,40,30)" opacity="0.65"/>
<circle cx="114.5" cy="11.3" r="1.3" fill="rgb(205,40,30)" opacity="0.73"/>
<circle cx="142.3" cy="3.9" r="1.1" fill="rgb(205,40,30)" opacity="0.85"/>
<circle cx="113.1" cy="12.0" r="1.1" fill="rgb(240,180,30)" opacity="0.52"/>
<circle cx="127.4" cy="13.1" r="1.6" fill="rgb(205,40,30)" opacity="0.61"/>
<circle cx="143.6" cy="11.3" r="1.4" fill="rgb(70,175,45)" opacity="0.48"/>
<circle cx="132.8" cy="13.5" r="1.7" fill="rgb(232,130,30)" opacity="0.46"/>
<circle cx="128.8" cy="8.7" r="1.8" fill="rgb(70,175,45)" opacity="0.47"/>
<circle cx="142.9" cy="7.1" r="1.3" fill="rgb(205,40,30)" opacity="0.60"/>
<circle cx="152.0" cy="9.2" r="1.5" fill="rgb(70,175,45)" opacity="0.62"/>
<circle cx="124.0" cy="9.7" r="1.0" fill="rgb(232,130,30)" opacity="0.66"/>
<circle cx="142.2" cy="9.1" r="1.2" fill="rgb(120,20,15)" opacity="0.52"/>
<circle cx="131.5" cy="8.4" r="1.6" fill="rgb(240,180,30)" opacity="0.52"/>
<circle cx="134.4" cy="8.1" r="1.3" fill="rgb(205,40,30)" opacity="0.47"/>
<circle cx="155.4" cy="10.3" r="1.3" fill="rgb(205,40,30)" opacity="0.71"/>
<circle cx="150.8" cy="8.0" r="1.2" fill="rgb(240,180,30)" opacity="0.79"/>
<circle cx="113.8" cy="9.5" r="1.3" fill="rgb(205,40,30)" opacity="0.46"/>
<circle cx="120.7" cy="10.0" r="1.4" fill="rgb(240,180,30)" opacity="0.62"/>
<circle cx="146.3" cy="8.7" r="1.3" fill="rgb(205,40,30)" opacity="0.47"/>
<circle cx="113.9" cy="8.4" r="1.0" fill="rgb(120,20,15)" opacity="0.72"/>
<circle cx="126.3" cy="7.7" r="1.5" fill="rgb(205,40,30)" opacity="0.48"/>
<circle cx="137.4" cy="13.3" r="1.5" fill="rgb(70,175,45)" opacity="0.62"/>
<circle cx="152.3" cy="9.6" r="1.6" fill="rgb(240,180,30)" opacity="0.80"/>
<circle cx="141.3" cy="11.0" r="1.6" fill="rgb(120,20,15)" opacity="0.62"/>
<circle cx="126.6" cy="11.3" r="1.1" fill="rgb(120,20,15)" opacity="0.73"/>
<circle cx="133.3" cy="11.5" r="1.5" fill="rgb(240,180,30)" opacity="0.61"/>
<circle cx="128.6" cy="8.4" r="1.6" fill="rgb(205,40,30)" opacity="0.57"/>
<circle cx="155.2" cy="11.6" r="1.8" fill="rgb(205,40,30)" opacity="0.85"/>
<circle cx="146.3" cy="7.5" r="1.6" fill="rgb(232,130,30)" opacity="0.73"/>
<circle cx="133.4" cy="10.8" r="1.5" fill="rgb(232,130,30)" opacity="0.61"/>
<circle cx="127.6" cy="10.6" r="1.2" fill="rgb(240,180,30)" opacity="0.66"/>
<circle cx="118.5" cy="9.5" r="1.8" fill="rgb(240,180,30)"/>
<circle cx="129.0" cy="11.0" r="1.6" fill="rgb(240,180,30)"/>
<circle cx="141.0" cy="6.5" r="1.6" fill="rgb(205,40,30)"/>
<circle cx="147.0" cy="8.0" r="1.6" fill="rgb(232,130,30)"/>
<circle cx="135.0" cy="5.0" r="1.4" fill="rgb(70,175,45)"/>
<circle cx="123.0" cy="13.0" r="1.5" fill="rgb(205,40,30)"/>
</g></g>
<text x="64.8" y="274.7" font-size="11.5" font-weight="700" fill="#fff">M</text>
<g clip-path="url(#clipMp)">
<rect x="219" y="263" width="155.5" height="40" fill="#000"/>
<g filter="url(#blMp)" transform="translate(219,263)">
<ellipse cx="5.7" cy="27.8" rx="2.2" ry="1.7" fill="rgb(25,105,40)" opacity="0.39"/>
<ellipse cx="37.2" cy="30.3" rx="2.3" ry="1.9" fill="rgb(70,175,45)" opacity="0.42"/>
<ellipse cx="27.1" cy="33.7" rx="2.3" ry="1.5" fill="rgb(25,105,40)" opacity="0.66"/>
<ellipse cx="14.8" cy="27.0" rx="2.9" ry="1.2" fill="rgb(40,110,40)" opacity="0.38"/>
<ellipse cx="8.8" cy="28.9" rx="2.2" ry="1.4" fill="rgb(25,105,40)" opacity="0.72"/>
<ellipse cx="40.6" cy="26.7" rx="1.7" ry="1.3" fill="rgb(25,105,40)" opacity="0.43"/>
<ellipse cx="12.2" cy="29.6" rx="2.7" ry="1.6" fill="rgb(70,175,45)" opacity="0.44"/>
<ellipse cx="24.1" cy="21.0" rx="2.5" ry="1.8" fill="rgb(25,105,40)" opacity="0.47"/>
<ellipse cx="50.9" cy="27.1" rx="2.2" ry="1.7" fill="rgb(25,105,40)" opacity="0.22"/>
<ellipse cx="4.6" cy="26.5" rx="1.6" ry="1.3" fill="rgb(40,110,40)" opacity="0.50"/>
<ellipse cx="14.1" cy="27.5" rx="2.9" ry="1.5" fill="rgb(40,110,40)" opacity="0.73"/>
<ellipse cx="63.0" cy="27.1" rx="2.3" ry="1.5" fill="rgb(40,110,40)" opacity="0.26"/>
<ellipse cx="27.5" cy="26.6" rx="2.4" ry="1.8" fill="rgb(25,105,40)" opacity="0.61"/>
<ellipse cx="10.1" cy="24.4" rx="3.0" ry="1.5" fill="rgb(25,105,40)" opacity="0.39"/>
<ellipse cx="0.1" cy="28.5" rx="2.7" ry="1.4" fill="rgb(40,110,40)" opacity="0.44"/>
<ellipse cx="29.2" cy="25.1" rx="2.2" ry="1.9" fill="rgb(40,110,40)" opacity="0.47"/>
<ellipse cx="66.9" cy="20.0" rx="2.7" ry="1.6" fill="rgb(25,105,40)" opacity="0.32"/>
<ellipse cx="66.2" cy="26.9" rx="1.6" ry="1.8" fill="rgb(70,175,45)" opacity="0.35"/>
<ellipse cx="63.6" cy="27.9" rx="2.5" ry="1.8" fill="rgb(25,105,40)" opacity="0.29"/>
<ellipse cx="8.4" cy="26.2" rx="1.8" ry="1.7" fill="rgb(40,110,40)" opacity="0.41"/>
<ellipse cx="45.2" cy="32.6" rx="1.5" ry="1.8" fill="rgb(70,175,45)" opacity="0.26"/>
<ellipse cx="40.1" cy="29.2" rx="2.0" ry="1.7" fill="rgb(25,105,40)" opacity="0.23"/>
<ellipse cx="16.2" cy="25.4" rx="2.0" ry="1.2" fill="rgb(70,175,45)" opacity="0.44"/>
<ellipse cx="58.2" cy="23.7" rx="1.8" ry="2.0" fill="rgb(70,175,45)" opacity="0.44"/>
<ellipse cx="18.0" cy="24.4" rx="1.8" ry="2.0" fill="rgb(40,110,40)" opacity="0.60"/>
<ellipse cx="26.7" cy="32.8" rx="2.3" ry="1.0" fill="rgb(70,175,45)" opacity="0.73"/>
<ellipse cx="7.9" cy="24.6" rx="2.1" ry="1.5" fill="rgb(25,105,40)" opacity="0.60"/>
<ellipse cx="38.0" cy="21.8" rx="2.2" ry="1.7" fill="rgb(25,105,40)" opacity="0.42"/>
<ellipse cx="22.2" cy="23.3" rx="2.0" ry="2.0" fill="rgb(70,175,45)" opacity="0.67"/>
<ellipse cx="19.7" cy="21.4" rx="2.8" ry="1.2" fill="rgb(25,105,40)" opacity="0.47"/>
<ellipse cx="68.8" cy="30.8" rx="1.7" ry="2.0" fill="rgb(70,175,45)" opacity="0.27"/>
<ellipse cx="69.8" cy="27.7" rx="1.5" ry="1.4" fill="rgb(25,105,40)" opacity="0.24"/>
<ellipse cx="57.4" cy="25.5" rx="2.7" ry="1.6" fill="rgb(70,175,45)" opacity="0.34"/>
<ellipse cx="5.4" cy="27.8" rx="2.0" ry="1.5" fill="rgb(25,105,40)" opacity="0.55"/>
<ellipse cx="34.5" cy="35.4" rx="2.9" ry="1.3" fill="rgb(70,175,45)" opacity="0.38"/>
<ellipse cx="65.9" cy="28.0" rx="2.9" ry="1.3" fill="rgb(25,105,40)" opacity="0.23"/>
<ellipse cx="25.4" cy="21.4" rx="2.4" ry="1.6" fill="rgb(70,175,45)" opacity="0.62"/>
<ellipse cx="42.0" cy="22.8" rx="2.8" ry="1.6" fill="rgb(70,175,45)" opacity="0.27"/>
<ellipse cx="16.8" cy="30.2" rx="2.5" ry="1.6" fill="rgb(70,175,45)" opacity="0.62"/>
<ellipse cx="63.7" cy="24.0" rx="1.6" ry="1.6" fill="rgb(70,175,45)" opacity="0.29"/>
<ellipse cx="30.4" cy="25.9" rx="2.7" ry="1.5" fill="rgb(70,175,45)" opacity="0.41"/>
<ellipse cx="57.7" cy="24.8" rx="2.6" ry="1.8" fill="rgb(70,175,45)" opacity="0.34"/>
<ellipse cx="51.6" cy="28.8" rx="3.0" ry="1.2" fill="rgb(70,175,45)" opacity="0.36"/>
<ellipse cx="32.2" cy="30.7" rx="1.7" ry="1.8" fill="rgb(70,175,45)" opacity="0.38"/>
<ellipse cx="19.5" cy="31.8" rx="2.0" ry="1.1" fill="rgb(25,105,40)" opacity="0.57"/>
<circle cx="64.5" cy="20.5" r="1.6" fill="rgb(120,20,15)" opacity="0.38"/>
<circle cx="42.1" cy="10.2" r="1.7" fill="rgb(205,40,30)" opacity="0.27"/>
<circle cx="70.1" cy="17.3" r="1.5" fill="rgb(120,20,15)" opacity="0.38"/>
<circle cx="42.7" cy="14.4" r="1.7" fill="rgb(205,40,30)" opacity="0.31"/>
<circle cx="40.5" cy="15.4" r="1.2" fill="rgb(120,20,15)" opacity="0.29"/>
<circle cx="70.9" cy="17.0" r="1.4" fill="rgb(120,20,15)" opacity="0.37"/>
<circle cx="78.8" cy="5.6" r="1.9" fill="rgb(120,20,15)" opacity="0.30"/>
<circle cx="74.7" cy="18.6" r="1.9" fill="rgb(120,20,15)" opacity="0.44"/>
<circle cx="69.1" cy="16.7" r="1.5" fill="rgb(205,40,30)" opacity="0.41"/>
<circle cx="53.5" cy="19.8" r="2.1" fill="rgb(120,20,15)" opacity="0.21"/>
<circle cx="44.0" cy="10.2" r="2.0" fill="rgb(205,40,30)" opacity="0.32"/>
<circle cx="35.6" cy="18.5" r="1.8" fill="rgb(120,20,15)" opacity="0.21"/>
<circle cx="48.2" cy="25.2" r="1.2" fill="rgb(205,40,30)" opacity="0.25"/>
<circle cx="55.0" cy="26.6" r="1.8" fill="rgb(120,20,15)" opacity="0.25"/>
<circle cx="42.7" cy="20.8" r="1.8" fill="rgb(120,20,15)" opacity="0.43"/>
<ellipse cx="4.5" cy="26" rx="3" ry="4" fill="rgb(165,210,45)" opacity="0.8" transform="rotate(-30 4.5 26)"/>
<ellipse cx="15" cy="28.5" rx="2.5" ry="2" fill="rgb(70,175,45)" opacity="0.7"/>
<ellipse cx="10" cy="30" rx="2" ry="2" fill="rgb(70,175,45)" opacity="0.5"/>
<ellipse cx="129.0" cy="24.7" rx="3.4" ry="2.1" fill="rgb(232,130,30)" opacity="0.64"/>
<ellipse cx="102.9" cy="17.1" rx="3.1" ry="1.8" fill="rgb(232,130,30)" opacity="0.76"/>
<ellipse cx="112.1" cy="11.2" rx="3.0" ry="2.0" fill="rgb(205,40,30)" opacity="0.47"/>
<ellipse cx="88.6" cy="15.9" rx="3.2" ry="1.4" fill="rgb(70,175,45)" opacity="0.85"/>
<ellipse cx="91.4" cy="14.7" rx="2.0" ry="2.3" fill="rgb(70,175,45)" opacity="0.49"/>
<ellipse cx="124.3" cy="15.5" rx="2.3" ry="1.5" fill="rgb(200,90,20)" opacity="0.65"/>
<ellipse cx="100.7" cy="17.7" rx="3.2" ry="2.2" fill="rgb(70,175,45)" opacity="0.63"/>
<ellipse cx="77.6" cy="13.7" rx="2.7" ry="1.8" fill="rgb(70,175,45)" opacity="0.83"/>
<ellipse cx="99.5" cy="19.0" rx="2.8" ry="2.2" fill="rgb(232,130,30)" opacity="0.81"/>
<ellipse cx="78.7" cy="7.9" rx="3.3" ry="2.2" fill="rgb(200,90,20)" opacity="0.79"/>
<ellipse cx="80.4" cy="17.1" rx="2.2" ry="1.7" fill="rgb(205,40,30)" opacity="0.66"/>
<ellipse cx="107.5" cy="16.6" rx="3.4" ry="1.4" fill="rgb(70,175,45)" opacity="0.90"/>
<ellipse cx="115.0" cy="11.7" rx="2.6" ry="1.6" fill="rgb(70,175,45)" opacity="0.73"/>
<ellipse cx="96.3" cy="17.7" rx="3.3" ry="1.7" fill="rgb(205,40,30)" opacity="0.73"/>
<ellipse cx="80.8" cy="16.9" rx="3.3" ry="2.1" fill="rgb(120,20,15)" opacity="0.58"/>
<ellipse cx="132.5" cy="17.8" rx="3.4" ry="1.5" fill="rgb(205,40,30)" opacity="0.56"/>
<ellipse cx="90.7" cy="20.0" rx="3.3" ry="2.1" fill="rgb(70,175,45)" opacity="0.71"/>
<ellipse cx="91.9" cy="11.9" rx="3.3" ry="2.1" fill="rgb(232,130,30)" opacity="0.85"/>
<ellipse cx="151.9" cy="14.1" rx="3.2" ry="2.4" fill="rgb(232,130,30)" opacity="0.58"/>
<ellipse cx="113.3" cy="17.2" rx="2.8" ry="2.1" fill="rgb(120,20,15)" opacity="0.46"/>
<ellipse cx="148.2" cy="14.7" rx="3.4" ry="2.1" fill="rgb(70,175,45)" opacity="0.56"/>
<ellipse cx="108.4" cy="13.7" rx="2.5" ry="1.5" fill="rgb(120,20,15)" opacity="0.56"/>
<ellipse cx="127.7" cy="12.0" rx="2.2" ry="1.8" fill="rgb(232,130,30)" opacity="0.84"/>
<ellipse cx="106.2" cy="24.4" rx="3.2" ry="1.9" fill="rgb(232,130,30)" opacity="0.52"/>
<ellipse cx="143.6" cy="21.8" rx="3.0" ry="2.4" fill="rgb(200,90,20)" opacity="0.75"/>
<ellipse cx="147.3" cy="16.3" rx="2.2" ry="1.8" fill="rgb(70,175,45)" opacity="0.69"/>
<ellipse cx="94.8" cy="16.5" rx="2.4" ry="2.0" fill="rgb(205,40,30)" opacity="0.47"/>
<ellipse cx="132.2" cy="14.1" rx="2.6" ry="2.1" fill="rgb(120,20,15)" opacity="0.83"/>
<ellipse cx="85.5" cy="18.9" rx="2.8" ry="2.3" fill="rgb(232,130,30)" opacity="0.48"/>
<ellipse cx="90.4" cy="21.4" rx="2.6" ry="1.8" fill="rgb(120,20,15)" opacity="0.73"/>
<ellipse cx="150.6" cy="21.7" rx="3.0" ry="2.1" fill="rgb(205,40,30)" opacity="0.54"/>
<ellipse cx="153.1" cy="15.8" rx="3.1" ry="2.4" fill="rgb(205,40,30)" opacity="0.82"/>
<ellipse cx="137.5" cy="24.0" rx="2.1" ry="2.1" fill="rgb(120,20,15)" opacity="0.88"/>
<ellipse cx="100.2" cy="17.3" rx="2.9" ry="1.6" fill="rgb(232,130,30)" opacity="0.80"/>
<ellipse cx="118.3" cy="13.7" rx="3.3" ry="2.1" fill="rgb(120,20,15)" opacity="0.84"/>
<ellipse cx="84.9" cy="22.2" rx="2.6" ry="1.4" fill="rgb(232,130,30)" opacity="0.72"/>
<ellipse cx="83.1" cy="18.3" rx="3.0" ry="1.5" fill="rgb(120,20,15)" opacity="0.55"/>
<ellipse cx="115.1" cy="24.4" rx="2.1" ry="2.3" fill="rgb(205,40,30)" opacity="0.48"/>
<ellipse cx="78.0" cy="18.4" rx="3.4" ry="2.2" fill="rgb(205,40,30)" opacity="0.54"/>
<ellipse cx="125.3" cy="20.4" rx="3.3" ry="1.5" fill="rgb(200,90,20)" opacity="0.87"/>
<ellipse cx="89.3" cy="16.6" rx="2.1" ry="1.6" fill="rgb(70,175,45)" opacity="0.56"/>
<ellipse cx="136.4" cy="13.8" rx="2.3" ry="2.3" fill="rgb(205,40,30)" opacity="0.73"/>
<ellipse cx="142.8" cy="15.2" rx="2.8" ry="1.9" fill="rgb(205,40,30)" opacity="0.86"/>
<ellipse cx="125.0" cy="19.1" rx="3.1" ry="2.3" fill="rgb(120,20,15)" opacity="0.59"/>
<ellipse cx="116.1" cy="20.2" rx="3.0" ry="2.2" fill="rgb(120,20,15)" opacity="0.48"/>
<ellipse cx="110.9" cy="17.2" rx="2.2" ry="1.8" fill="rgb(205,40,30)" opacity="0.59"/>
<ellipse cx="117.1" cy="12.2" rx="3.3" ry="1.8" fill="rgb(120,20,15)" opacity="0.59"/>
<ellipse cx="113.1" cy="22.8" rx="2.2" ry="2.1" fill="rgb(120,20,15)" opacity="0.61"/>
<ellipse cx="142.1" cy="23.6" rx="2.5" ry="1.6" fill="rgb(120,20,15)" opacity="0.63"/>
<ellipse cx="78.2" cy="12.6" rx="3.3" ry="1.5" fill="rgb(205,40,30)" opacity="0.47"/>
<ellipse cx="109.8" cy="14.7" rx="2.5" ry="2.3" fill="rgb(120,20,15)" opacity="0.69"/>
<ellipse cx="117.8" cy="15.3" rx="3.4" ry="1.5" fill="rgb(70,175,45)" opacity="0.72"/>
<ellipse cx="138.2" cy="19.9" rx="2.1" ry="1.5" fill="rgb(120,20,15)" opacity="0.53"/>
<ellipse cx="87.9" cy="19.6" rx="2.2" ry="1.6" fill="rgb(205,40,30)" opacity="0.57"/>
<ellipse cx="119.3" cy="20.6" rx="3.0" ry="1.8" fill="rgb(205,40,30)" opacity="0.70"/>
<ellipse cx="88.6" cy="19.2" rx="3.4" ry="2.3" fill="rgb(232,130,30)" opacity="0.56"/>
<ellipse cx="130.7" cy="18.2" rx="2.4" ry="1.7" fill="rgb(120,20,15)" opacity="0.59"/>
<ellipse cx="131.0" cy="18.3" rx="2.9" ry="1.5" fill="rgb(232,130,30)" opacity="0.84"/>
<ellipse cx="78.4" cy="13.0" rx="2.7" ry="2.1" fill="rgb(232,130,30)" opacity="0.57"/>
<ellipse cx="145.4" cy="20.6" rx="2.2" ry="1.7" fill="rgb(232,130,30)" opacity="0.88"/>
<ellipse cx="80.5" cy="12.7" rx="2.2" ry="2.2" fill="rgb(232,130,30)" opacity="0.64"/>
<ellipse cx="147.7" cy="14.3" rx="2.9" ry="2.0" fill="rgb(70,175,45)" opacity="0.50"/>
<ellipse cx="101.5" cy="22.3" rx="3.2" ry="1.4" fill="rgb(205,40,30)" opacity="0.63"/>
<ellipse cx="146.4" cy="14.4" rx="3.2" ry="1.6" fill="rgb(200,90,20)" opacity="0.67"/>
<ellipse cx="145.7" cy="16.9" rx="3.3" ry="1.6" fill="rgb(232,130,30)" opacity="0.84"/>
<ellipse cx="85.1" cy="13.6" rx="2.4" ry="1.8" fill="rgb(232,130,30)" opacity="0.65"/>
<ellipse cx="79.0" cy="24.0" rx="2.2" ry="2.4" fill="rgb(232,130,30)" opacity="0.84"/>
<ellipse cx="104.4" cy="17.9" rx="2.3" ry="2.3" fill="rgb(232,130,30)" opacity="0.81"/>
<ellipse cx="116.8" cy="14.6" rx="2.7" ry="2.2" fill="rgb(70,175,45)" opacity="0.76"/>
<ellipse cx="105.7" cy="12.3" rx="2.1" ry="2.2" fill="rgb(200,90,20)" opacity="0.58"/>
<circle cx="109.8" cy="15.3" r="2.8" fill="rgb(70,175,45)"/>
<circle cx="103.3" cy="21.0" r="2.6" fill="rgb(70,175,45)"/>
<circle cx="124.3" cy="20.2" r="2.5" fill="rgb(70,175,45)"/>
<circle cx="138.8" cy="24.2" r="2.2" fill="rgb(165,210,45)"/>
<circle cx="147.0" cy="5.0" r="1.8" fill="rgb(60,120,40)"/>
<circle cx="82.3" cy="16.0" r="2.8" fill="rgb(232,130,30)"/>
<circle cx="84.0" cy="22.6" r="2.6" fill="rgb(240,180,30)"/>
<circle cx="93.6" cy="15.3" r="2.6" fill="rgb(232,130,30)"/>
<circle cx="96.8" cy="23.4" r="2.4" fill="rgb(232,130,30)"/>
<circle cx="116.2" cy="19.4" r="2.4" fill="rgb(205,40,30)"/>
<circle cx="127.5" cy="11.3" r="2.6" fill="rgb(232,130,30)"/>
<circle cx="135.6" cy="14.5" r="2.4" fill="rgb(232,130,30)"/>
<circle cx="143.7" cy="13.0" r="2.4" fill="rgb(205,40,30)"/>
<circle cx="151.8" cy="11.3" r="2.4" fill="rgb(232,130,30)"/>
<circle cx="103.3" cy="9.7" r="2.2" fill="rgb(205,40,30)"/>
<circle cx="121.0" cy="13.0" r="2.2" fill="rgb(240,180,30)"/>
<circle cx="89.0" cy="18.0" r="2.2" fill="rgb(205,40,30)"/>
</g></g>
<text x="223" y="274" font-size="11.6" font-weight="700" fill="#fff">M‘2x</text>
<polygon points="0,0 -9.5,-4.6 -7.3,-1.3 -13,-1.4 -13,1.4 -7.3,1.3 -9.5,4.6" fill="#fff" transform="translate(296.5,290.2) rotate(-52)"/>
<polygon points="0,0 -9.5,-4.6 -7.3,-1.3 -13,-1.4 -13,1.4 -7.3,1.3 -9.5,4.6" fill="#fff" transform="translate(355.2,291.8) rotate(-52)"/>
<text x="101.7" y="18.5" font-size="11.3" fill="#111" font-weight="400" text-anchor="middle" >Alexa 488</text>
<text x="177" y="18.5" font-size="11.3" fill="#111" font-weight="400" text-anchor="middle" >Cy3</text>
<text x="255.5" y="18.5" font-size="11.3" fill="#111" font-weight="400" text-anchor="middle" >XY</text>
<text x="335.4" y="18.5" font-size="11.3" fill="#111" font-weight="400" text-anchor="middle" >XZ</text>
<text x="33.3" y="70.4" font-size="11.4" fill="#111" textLength="24.4" lengthAdjust="spacingAndGlyphs">High</text>
<text x="15" y="143.4" font-size="11.4" fill="#111" textLength="42.8" lengthAdjust="spacingAndGlyphs">Medium</text>
<text x="30.6" y="220.9" font-size="11.4" fill="#111" textLength="21.6" lengthAdjust="spacingAndGlyphs">Low</text>
<text x="0" y="0" font-size="11.6" fill="#111" text-anchor="middle" transform="translate(12.6,136.8) rotate(-90)">Co-Distribution</text>
<text x="60.6" y="301.8" font-size="10.4" fill="#111" font-weight="400" text-anchor="start" >3D SIM, XZ</text>
<text x="217" y="300.8" font-size="10" text-anchor="end"><tspan fill="#367854">Fibr</tspan><tspan fill="#222">+</tspan><tspan fill="#9c2a3e">VWF</tspan></text>
<text x="388" y="17.6" font-size="10.6" fill="#1a1a1a" font-weight="700" text-anchor="start" >Protein Pairs Scored</text>
<text x="387.8" y="29.80" font-size="9.35" xml:space="preserve"><tspan fill="#9c2a3e">TSP</tspan><tspan fill="#9c2a3e">+</tspan><tspan fill="#9c2a3e">PF4</tspan><tspan fill="#2a2a2a"> (86% co-distribution)</tspan></text>
<text x="387.8" y="42.01" font-size="9.0" xml:space="preserve"><tspan fill="#367854">IGF</tspan><tspan fill="#222">+</tspan><tspan fill="#222">CD40L</tspan><tspan fill="#2a2a2a"> (70%)</tspan></text>
<text x="387.8" y="54.22" font-size="9.0" xml:space="preserve"><tspan fill="#367854">Fibr</tspan><tspan fill="#222">+</tspan><tspan fill="#9c2a3e">TSP</tspan><tspan fill="#2a2a2a"> (51%)</tspan></text>
<text x="387.8" y="66.43" font-size="9.0" xml:space="preserve"><tspan fill="#367854">Fibr</tspan><tspan fill="#222">+</tspan><tspan fill="#222">SgIII</tspan><tspan fill="#2a2a2a"> (48%)</tspan></text>
<text x="387.8" y="78.64" font-size="9.0" xml:space="preserve"><tspan fill="#367854">PDGF</tspan><tspan fill="#222">+</tspan><tspan fill="#9c2a3e">PF4</tspan><tspan fill="#2a2a2a"> (42%)</tspan></text>
<text x="387.8" y="90.85" font-size="9.0" xml:space="preserve"><tspan fill="#367854">VEGF</tspan><tspan fill="#222">+</tspan><tspan fill="#9c2a3e">Endo</tspan><tspan fill="#2a2a2a"> (41%)</tspan></text>
<text x="387.8" y="103.06" font-size="9.0" xml:space="preserve"><tspan fill="#9c2a3e">TSP</tspan><tspan fill="#9c2a3e">+</tspan><tspan fill="#9c2a3e">TGF-β</tspan><tspan fill="#2a2a2a"> (39%)</tspan></text>
<text x="387.8" y="115.27" font-size="9.0" xml:space="preserve"><tspan fill="#367854">Fibr</tspan><tspan fill="#367854">+</tspan><tspan fill="#367854">VEGF</tspan><tspan fill="#2a2a2a"> (38%)</tspan></text>
<text x="387.8" y="127.48" font-size="9.0" xml:space="preserve"><tspan fill="#9c2a3e">TSP</tspan><tspan fill="#9c2a3e">+</tspan><tspan fill="#9c2a3e">Endo</tspan><tspan fill="#2a2a2a"> (37%)</tspan></text>
<text x="387.8" y="139.69" font-size="9.0" xml:space="preserve"><tspan fill="#367854">VEGF</tspan><tspan fill="#222">+</tspan><tspan fill="#222">CD40L</tspan><tspan fill="#2a2a2a"> (34%)</tspan></text>
<text x="387.8" y="151.90" font-size="9.0" xml:space="preserve"><tspan fill="#367854">IGF</tspan><tspan fill="#367854">+</tspan><tspan fill="#367854">FGF</tspan><tspan fill="#2a2a2a"> (32%)</tspan></text>
<text x="387.8" y="164.11" font-size="9.0" xml:space="preserve"><tspan fill="#9c2a3e">vWF</tspan><tspan fill="#222">+</tspan><tspan fill="#222">SgIII</tspan><tspan fill="#2a2a2a"> (28%)</tspan></text>
<text x="387.8" y="176.32" font-size="9.0" xml:space="preserve"><tspan fill="#9c2a3e">Plasm</tspan><tspan fill="#222">+</tspan><tspan fill="#222">SgIII</tspan><tspan fill="#2a2a2a"> (28%)</tspan></text>
<text x="387.8" y="188.53" font-size="9.0" xml:space="preserve"><tspan fill="#367854">FGF</tspan><tspan fill="#222">+</tspan><tspan fill="#9c2a3e">TSP</tspan><tspan fill="#2a2a2a"> (27%)</tspan></text>
<text x="387.8" y="200.74" font-size="9.0" xml:space="preserve"><tspan fill="#9c2a3e">vWF</tspan><tspan fill="#222">+</tspan><tspan fill="#222">CD40L</tspan><tspan fill="#2a2a2a"> (27%)</tspan></text>
<text x="387.8" y="212.95" font-size="9.0" xml:space="preserve"><tspan fill="#367854">Fibr</tspan><tspan fill="#222">+</tspan><tspan fill="#9c2a3e">Endo</tspan><tspan fill="#2a2a2a"> (24%)</tspan></text>
<text x="387.8" y="225.16" font-size="9.0" xml:space="preserve"><tspan fill="#367854">VEGF</tspan><tspan fill="#222">+</tspan><tspan fill="#9c2a3e">vWF</tspan><tspan fill="#2a2a2a"> (23%)</tspan></text>
<text x="387.8" y="237.37" font-size="9.0" xml:space="preserve"><tspan fill="#9c2a3e">vWF</tspan><tspan fill="#9c2a3e">+</tspan><tspan fill="#9c2a3e">Plasm</tspan><tspan fill="#2a2a2a"> (21%)</tspan></text>
<text x="387.8" y="249.58" font-size="9.0" xml:space="preserve"><tspan fill="#367854">VEGF</tspan><tspan fill="#367854">+</tspan><tspan fill="#367854">PDGF</tspan><tspan fill="#2a2a2a"> (19%)</tspan></text>
<text x="387.8" y="261.79" font-size="9.0" xml:space="preserve"><tspan fill="#367854">FGF</tspan><tspan fill="#222">+</tspan><tspan fill="#9c2a3e">vWF</tspan><tspan fill="#2a2a2a"> (19%)</tspan></text>
<text x="387.8" y="274.00" font-size="9.0" xml:space="preserve"><tspan fill="#367854">Fibr</tspan><tspan fill="#222">+</tspan><tspan fill="#9c2a3e">vWF</tspan><tspan fill="#2a2a2a"> (18%)</tspan></text>
<text x="387.8" y="286.21" font-size="9.0" xml:space="preserve"><tspan fill="#367854">Fibr</tspan><tspan fill="#222">+</tspan><tspan fill="#9c2a3e">Plasm</tspan><tspan fill="#2a2a2a">(18%)</tspan></text>
<text x="387.8" y="298.42" font-size="9.0" xml:space="preserve"><tspan fill="#367854">VEGF</tspan><tspan fill="#367854">+</tspan><tspan fill="#367854">FGF</tspan><tspan fill="#2a2a2a"> (12%)</tspan></text>
<rect x="41" y="312.5" width="131.5" height="170.5" fill="none" stroke="#111" stroke-width="1.4"/>
<g stroke="#111" stroke-width="0.8"><line x1="41" y1="483.0" x2="43.2" y2="483.0"/><line x1="41.5" y1="483" x2="41.5" y2="480.8"/><line x1="41" y1="466.2" x2="42.5" y2="466.2"/><line x1="54.5" y1="483" x2="54.5" y2="481.5"/><line x1="41" y1="449.4" x2="43.2" y2="449.4"/><line x1="67.5" y1="483" x2="67.5" y2="480.8"/><line x1="41" y1="432.6" x2="42.5" y2="432.6"/><line x1="80.5" y1="483" x2="80.5" y2="481.5"/><line x1="41" y1="415.8" x2="43.2" y2="415.8"/><line x1="93.5" y1="483" x2="93.5" y2="480.8"/><line x1="41" y1="399.0" x2="42.5" y2="399.0"/><line x1="106.5" y1="483" x2="106.5" y2="481.5"/><line x1="41" y1="382.2" x2="43.2" y2="382.2"/><line x1="119.5" y1="483" x2="119.5" y2="480.8"/><line x1="41" y1="365.4" x2="42.5" y2="365.4"/><line x1="132.5" y1="483" x2="132.5" y2="481.5"/><line x1="41" y1="348.6" x2="43.2" y2="348.6"/><line x1="145.5" y1="483" x2="145.5" y2="480.8"/><line x1="41" y1="331.8" x2="42.5" y2="331.8"/><line x1="158.5" y1="483" x2="158.5" y2="481.5"/><line x1="41" y1="315.0" x2="43.2" y2="315.0"/><line x1="171.5" y1="483" x2="171.5" y2="480.8"/></g>
<text x="39.5" y="485.0" font-size="6" fill="#333" text-anchor="end">0</text>
<text x="41.5" y="489.8" font-size="6" fill="#333" text-anchor="middle">0</text>
<text x="39.5" y="451.4" font-size="6" fill="#333" text-anchor="end">20</text>
<text x="67.5" y="489.8" font-size="6" fill="#333" text-anchor="middle">20</text>
<text x="39.5" y="417.8" font-size="6" fill="#333" text-anchor="end">40</text>
<text x="93.5" y="489.8" font-size="6" fill="#333" text-anchor="middle">40</text>
<text x="39.5" y="384.2" font-size="6" fill="#333" text-anchor="end">60</text>
<text x="119.5" y="489.8" font-size="6" fill="#333" text-anchor="middle">60</text>
<text x="39.5" y="350.6" font-size="6" fill="#333" text-anchor="end">80</text>
<text x="145.5" y="489.8" font-size="6" fill="#333" text-anchor="middle">80</text>
<text x="39.5" y="317.0" font-size="6" fill="#333" text-anchor="end">100</text>
<text x="171.5" y="489.8" font-size="6" fill="#333" text-anchor="middle">100</text>
<text x="48.3" y="328.7" font-size="12" font-weight="700" fill="#111">N</text>
<text x="0" y="0" font-size="9.35" fill="#222" text-anchor="middle" transform="translate(31,395.5) rotate(-90)">Co-Distribution (% Co-Localization)</text>
<text x="104.8" y="501.6" font-size="9.1" fill="#222" text-anchor="middle">Co-Distribution (% Co-Localization)</text>
<g stroke="#333" stroke-width="0.55"><line x1="145.4" y1="338.8" x2="145.4" y2="355.4"/><line x1="144.70000000000002" y1="338.8" x2="146.1" y2="338.8"/><line x1="144.70000000000002" y1="355.4" x2="146.1" y2="355.4"/><line x1="131.4" y1="356.9" x2="131.4" y2="373.9"/><line x1="130.70000000000002" y1="356.9" x2="132.1" y2="356.9"/><line x1="130.70000000000002" y1="373.9" x2="132.1" y2="373.9"/><line x1="106.3" y1="393.4" x2="106.3" y2="403.4"/><line x1="105.6" y1="393.4" x2="107.0" y2="393.4"/><line x1="105.6" y1="403.4" x2="107.0" y2="403.4"/><line x1="102.5" y1="396.2" x2="102.5" y2="410.2"/><line x1="101.8" y1="396.2" x2="103.2" y2="396.2"/><line x1="101.8" y1="410.2" x2="103.2" y2="410.2"/><line x1="96.2" y1="406.3" x2="96.2" y2="415.3"/><line x1="95.5" y1="406.3" x2="96.9" y2="406.3"/><line x1="95.5" y1="415.3" x2="96.9" y2="415.3"/><line x1="95.0" y1="409.8" x2="95.0" y2="417.8"/><line x1="94.3" y1="409.8" x2="95.7" y2="409.8"/><line x1="94.3" y1="417.8" x2="95.7" y2="417.8"/><line x1="92.8" y1="412.2" x2="92.8" y2="420.2"/><line x1="92.1" y1="412.2" x2="93.5" y2="412.2"/><line x1="92.1" y1="420.2" x2="93.5" y2="420.2"/><line x1="90.8" y1="414.4" x2="90.8" y2="422.4"/><line x1="90.1" y1="414.4" x2="91.5" y2="414.4"/><line x1="90.1" y1="422.4" x2="91.5" y2="422.4"/><line x1="89.0" y1="417.0" x2="89.0" y2="425.0"/><line x1="88.3" y1="417.0" x2="89.7" y2="417.0"/><line x1="88.3" y1="425.0" x2="89.7" y2="425.0"/><line x1="85.6" y1="422.4" x2="85.6" y2="430.4"/><line x1="84.89999999999999" y1="422.4" x2="86.3" y2="422.4"/><line x1="84.89999999999999" y1="430.4" x2="86.3" y2="430.4"/><line x1="83.8" y1="424.4" x2="83.8" y2="432.4"/><line x1="83.1" y1="424.4" x2="84.5" y2="424.4"/><line x1="83.1" y1="432.4" x2="84.5" y2="432.4"/><line x1="77.2" y1="430.4" x2="77.2" y2="438.4"/><line x1="76.5" y1="430.4" x2="77.9" y2="430.4"/><line x1="76.5" y1="438.4" x2="77.9" y2="438.4"/><line x1="75.6" y1="432.6" x2="75.6" y2="440.6"/><line x1="74.89999999999999" y1="432.6" x2="76.3" y2="432.6"/><line x1="74.89999999999999" y1="440.6" x2="76.3" y2="440.6"/><line x1="77.2" y1="435.1" x2="77.2" y2="442.1"/><line x1="76.5" y1="435.1" x2="77.9" y2="435.1"/><line x1="76.5" y1="442.1" x2="77.9" y2="442.1"/><line x1="74.0" y1="437.1" x2="74.0" y2="444.1"/><line x1="73.3" y1="437.1" x2="74.7" y2="437.1"/><line x1="73.3" y1="444.1" x2="74.7" y2="444.1"/><line x1="70.8" y1="437.7" x2="70.8" y2="444.7"/><line x1="70.1" y1="437.7" x2="71.5" y2="437.7"/><line x1="70.1" y1="444.7" x2="71.5" y2="444.7"/><line x1="69.2" y1="441.1" x2="69.2" y2="448.1"/><line x1="68.5" y1="441.1" x2="69.9" y2="441.1"/><line x1="68.5" y1="448.1" x2="69.9" y2="448.1"/><line x1="67.2" y1="443.7" x2="67.2" y2="450.7"/><line x1="66.5" y1="443.7" x2="67.9" y2="443.7"/><line x1="66.5" y1="450.7" x2="67.9" y2="450.7"/><line x1="65.6" y1="447.3" x2="65.6" y2="454.3"/><line x1="64.89999999999999" y1="447.3" x2="66.3" y2="447.3"/><line x1="64.89999999999999" y1="454.3" x2="66.3" y2="454.3"/><line x1="64.0" y1="447.3" x2="64.0" y2="454.3"/><line x1="63.3" y1="447.3" x2="64.7" y2="447.3"/><line x1="63.3" y1="454.3" x2="64.7" y2="454.3"/><line x1="63.6" y1="450.7" x2="63.6" y2="457.7"/><line x1="62.9" y1="450.7" x2="64.3" y2="450.7"/><line x1="62.9" y1="457.7" x2="64.3" y2="457.7"/><line x1="64.4" y1="452.9" x2="64.4" y2="459.9"/><line x1="63.7" y1="452.9" x2="65.10000000000001" y2="452.9"/><line x1="63.7" y1="459.9" x2="65.10000000000001" y2="459.9"/><line x1="56.3" y1="458.3" x2="56.3" y2="467.5"/><line x1="55.599999999999994" y1="458.3" x2="57.0" y2="458.3"/><line x1="55.599999999999994" y1="467.5" x2="57.0" y2="467.5"/></g>
<circle cx="145.4" cy="347.1" r="1.05" fill="#fff" stroke="#222" stroke-width="0.55"/>
<circle cx="131.4" cy="365.4" r="1.05" fill="#fff" stroke="#222" stroke-width="0.55"/>
<circle cx="106.3" cy="398.4" r="1.05" fill="#fff" stroke="#222" stroke-width="0.55"/>
<circle cx="102.5" cy="403.2" r="1.05" fill="#fff" stroke="#222" stroke-width="0.55"/>
<circle cx="96.2" cy="410.8" r="1.05" fill="#fff" stroke="#222" stroke-width="0.55"/>
<circle cx="95.0" cy="413.8" r="1.05" fill="#fff" stroke="#222" stroke-width="0.55"/>
<circle cx="92.8" cy="416.2" r="1.05" fill="#fff" stroke="#222" stroke-width="0.55"/>
<circle cx="90.8" cy="418.4" r="1.05" fill="#fff" stroke="#222" stroke-width="0.55"/>
<circle cx="89.0" cy="421.0" r="1.05" fill="#fff" stroke="#222" stroke-width="0.55"/>
<circle cx="85.6" cy="426.4" r="1.05" fill="#fff" stroke="#222" stroke-width="0.55"/>
<circle cx="83.8" cy="428.4" r="1.05" fill="#fff" stroke="#222" stroke-width="0.55"/>
<circle cx="77.2" cy="434.4" r="1.05" fill="#fff" stroke="#222" stroke-width="0.55"/>
<circle cx="75.6" cy="436.6" r="1.05" fill="#fff" stroke="#222" stroke-width="0.55"/>
<circle cx="77.2" cy="438.6" r="1.05" fill="#fff" stroke="#222" stroke-width="0.55"/>
<circle cx="74.0" cy="440.6" r="1.05" fill="#fff" stroke="#222" stroke-width="0.55"/>
<circle cx="70.8" cy="441.2" r="1.05" fill="#fff" stroke="#222" stroke-width="0.55"/>
<circle cx="69.2" cy="444.6" r="1.05" fill="#fff" stroke="#222" stroke-width="0.55"/>
<circle cx="67.2" cy="447.2" r="1.05" fill="#fff" stroke="#222" stroke-width="0.55"/>
<circle cx="65.6" cy="450.8" r="1.05" fill="#fff" stroke="#222" stroke-width="0.55"/>
<circle cx="64.0" cy="450.8" r="1.05" fill="#fff" stroke="#222" stroke-width="0.55"/>
<circle cx="63.6" cy="454.2" r="1.05" fill="#fff" stroke="#222" stroke-width="0.55"/>
<circle cx="64.4" cy="456.4" r="1.05" fill="#fff" stroke="#222" stroke-width="0.55"/>
<circle cx="56.3" cy="462.9" r="1.05" fill="#fff" stroke="#222" stroke-width="0.55"/>
<text x="147.2" y="348.4" font-size="3.55" font-weight="700" text-anchor="start"><tspan fill="#9c2a3e">TSP+PF4</tspan></text>
<text x="133.2" y="366.7" font-size="3.55" font-weight="700" text-anchor="start"><tspan fill="#367854">IGF</tspan><tspan fill="#111">+CD40L</tspan></text>
<text x="108.1" y="399.7" font-size="3.55" font-weight="700" text-anchor="start"><tspan fill="#367854">Fibr+</tspan><tspan fill="#9c2a3e">TSP</tspan></text>
<text x="100.7" y="404.5" font-size="3.55" font-weight="700" text-anchor="end"><tspan fill="#367854">Fibr+</tspan><tspan fill="#111">SgIII</tspan></text>
<text x="94.4" y="412.1" font-size="3.55" font-weight="700" text-anchor="end"><tspan fill="#367854">PDGF</tspan><tspan fill="#9c2a3e">+PF4</tspan></text>
<text x="96.8" y="415.1" font-size="3.55" font-weight="700" text-anchor="start"><tspan fill="#367854">VEGF</tspan><tspan fill="#9c2a3e">+Endo*</tspan></text>
<text x="91.0" y="417.5" font-size="3.55" font-weight="700" text-anchor="end"><tspan fill="#9c2a3e">TSP+TGF-β</tspan></text>
<text x="89.0" y="419.7" font-size="3.55" font-weight="700" text-anchor="end"><tspan fill="#367854">Fibr+</tspan><tspan fill="#367854">VEGF</tspan></text>
<text x="90.8" y="422.3" font-size="3.55" font-weight="700" text-anchor="start"><tspan fill="#9c2a3e">TSP+Endo</tspan></text>
<text x="87.4" y="427.7" font-size="3.55" font-weight="700" text-anchor="start"><tspan fill="#367854">VEGF</tspan><tspan fill="#111">+CD40L</tspan></text>
<text x="82.0" y="429.7" font-size="3.55" font-weight="700" text-anchor="end"><tspan fill="#367854">IGF+FGF</tspan></text>
<text x="75.4" y="435.7" font-size="3.55" font-weight="700" text-anchor="end"><tspan fill="#9c2a3e">vWF</tspan><tspan fill="#111">+SgIII</tspan></text>
<text x="73.8" y="437.9" font-size="3.55" font-weight="700" text-anchor="end"><tspan fill="#9c2a3e">Plasm</tspan><tspan fill="#111">+SgIII</tspan></text>
<text x="79.0" y="439.9" font-size="3.55" font-weight="700" text-anchor="start"><tspan fill="#367854">FGF</tspan><tspan fill="#9c2a3e">+TSP*</tspan></text>
<text x="75.8" y="441.9" font-size="3.55" font-weight="700" text-anchor="start"><tspan fill="#9c2a3e">vWF</tspan><tspan fill="#111">+CD40L</tspan></text>
<text x="69.0" y="442.5" font-size="3.55" font-weight="700" text-anchor="end"><tspan fill="#367854">Fibr+</tspan><tspan fill="#9c2a3e">Endo</tspan></text>
<text x="67.4" y="445.9" font-size="3.55" font-weight="700" text-anchor="end"><tspan fill="#367854">VEGF</tspan><tspan fill="#9c2a3e">+vWF</tspan></text>
<text x="69.0" y="448.5" font-size="3.55" font-weight="700" text-anchor="start"><tspan fill="#9c2a3e">vWF+Plasm</tspan></text>
<text x="67.4" y="452.1" font-size="3.55" font-weight="700" text-anchor="start"><tspan fill="#367854">VEGF+PDGF</tspan></text>
<text x="62.2" y="452.1" font-size="3.55" font-weight="700" text-anchor="end"><tspan fill="#367854">FGF</tspan><tspan fill="#9c2a3e">+vWF</tspan></text>
<text x="61.8" y="455.5" font-size="3.55" font-weight="700" text-anchor="end"><tspan fill="#367854">Fibr+</tspan><tspan fill="#9c2a3e">Plasm</tspan></text>
<text x="66.2" y="457.7" font-size="3.55" font-weight="700" text-anchor="start"><tspan fill="#367854">Fibr+</tspan><tspan fill="#9c2a3e">vWF*</tspan></text>
<text x="58.1" y="464.2" font-size="3.55" font-weight="700" text-anchor="start"><tspan fill="#367854">VEGF+FGF</tspan></text>
<text x="112.3" y="350.6" font-size="7.8" fill="#222">High</text>
<line x1="130.6" y1="347.6" x2="137" y2="347.6" stroke="#222" stroke-width="0.8"/><polygon points="139.5,347.6 135.8,345.6 135.8,349.6" fill="#222"/>
<text x="135.4" y="401.5" font-size="7.8" fill="#222">Medium</text>
<line x1="128.5" y1="398.5" x2="134" y2="398.5" stroke="#222" stroke-width="0.8"/><polygon points="126,398.5 129.7,396.5 129.7,400.5" fill="#222"/>
<text x="103.3" y="459" font-size="7.8" fill="#222">Low</text>
<line x1="95.5" y1="455.9" x2="101" y2="455.9" stroke="#222" stroke-width="0.8"/><polygon points="93,455.9 96.7,453.9 96.7,457.9" fill="#222"/>
<rect x="214.8" y="415.0" width="13.25" height="68.0" fill="#c4c4c4" stroke="#7a7a7a" stroke-width="0.6"/>
<rect x="228.0" y="347.0" width="13.25" height="136.0" fill="#c4c4c4" stroke="#7a7a7a" stroke-width="0.6"/>
<rect x="241.2" y="381.0" width="13.25" height="102.0" fill="#c4c4c4" stroke="#7a7a7a" stroke-width="0.6"/>
<rect x="254.5" y="432.0" width="13.25" height="51.0" fill="#c4c4c4" stroke="#7a7a7a" stroke-width="0.6"/>
<rect x="267.8" y="466.0" width="13.25" height="17.0" fill="#c4c4c4" stroke="#7a7a7a" stroke-width="0.6"/>
<rect x="294.2" y="466.0" width="13.25" height="17.0" fill="#c4c4c4" stroke="#7a7a7a" stroke-width="0.6"/>
<rect x="307.5" y="466.0" width="13.25" height="17.0" fill="#c4c4c4" stroke="#7a7a7a" stroke-width="0.6"/>
<rect x="201" y="312.5" width="132.5" height="170.5" fill="none" stroke="#111" stroke-width="1.4"/>
<g stroke="#111" stroke-width="0.8"><line x1="201" y1="483.0" x2="203.2" y2="483.0"/><line x1="201" y1="466.0" x2="202.5" y2="466.0"/><line x1="201" y1="449.0" x2="203.2" y2="449.0"/><line x1="201" y1="432.0" x2="202.5" y2="432.0"/><line x1="201" y1="415.0" x2="203.2" y2="415.0"/><line x1="201" y1="398.0" x2="202.5" y2="398.0"/><line x1="201" y1="381.0" x2="203.2" y2="381.0"/><line x1="201" y1="364.0" x2="202.5" y2="364.0"/><line x1="201" y1="347.0" x2="203.2" y2="347.0"/><line x1="201" y1="330.0" x2="202.5" y2="330.0"/><line x1="201" y1="313.0" x2="203.2" y2="313.0"/><line x1="201.5" y1="483" x2="201.5" y2="480.8"/><line x1="214.8" y1="483" x2="214.8" y2="481.5"/><line x1="228.0" y1="483" x2="228.0" y2="480.8"/><line x1="241.2" y1="483" x2="241.2" y2="481.5"/><line x1="254.5" y1="483" x2="254.5" y2="480.8"/><line x1="267.8" y1="483" x2="267.8" y2="481.5"/><line x1="281.0" y1="483" x2="281.0" y2="480.8"/><line x1="294.2" y1="483" x2="294.2" y2="481.5"/><line x1="307.5" y1="483" x2="307.5" y2="480.8"/><line x1="320.8" y1="483" x2="320.8" y2="481.5"/><line x1="334.0" y1="483" x2="334.0" y2="480.8"/></g>
<text x="199.2" y="485.0" font-size="6" fill="#333" text-anchor="end">0</text>
<text x="199.2" y="451.0" font-size="6" fill="#333" text-anchor="end">2</text>
<text x="199.2" y="417.0" font-size="6" fill="#333" text-anchor="end">4</text>
<text x="199.2" y="383.0" font-size="6" fill="#333" text-anchor="end">6</text>
<text x="199.2" y="349.0" font-size="6" fill="#333" text-anchor="end">8</text>
<text x="199.2" y="315.0" font-size="6" fill="#333" text-anchor="end">10</text>
<text x="201.5" y="489.8" font-size="6" fill="#333" text-anchor="middle">0</text>
<text x="228.0" y="489.8" font-size="6" fill="#333" text-anchor="middle">20</text>
<text x="254.5" y="489.8" font-size="6" fill="#333" text-anchor="middle">40</text>
<text x="281.0" y="489.8" font-size="6" fill="#333" text-anchor="middle">60</text>
<text x="307.5" y="489.8" font-size="6" fill="#333" text-anchor="middle">80</text>
<text x="334.0" y="489.8" font-size="6" fill="#333" text-anchor="middle">100</text>
<text x="207.6" y="329" font-size="12" font-weight="700" fill="#111">O</text>
<text x="0" y="0" font-size="9.1" fill="#222" text-anchor="middle" transform="translate(190.8,393.4) rotate(-90)">Incidence (Percentage Class)</text>
<text x="264.5" y="502.3" font-size="9.1" fill="#222" text-anchor="middle">Co-Distribution (% Co-Localization)</text>
<rect x="361" y="312.5" width="132" height="170.5" fill="none" stroke="#111" stroke-width="1.4"/>
<g stroke="#111" stroke-width="0.8"><line x1="361" y1="482.5" x2="363.2" y2="482.5"/><line x1="361" y1="466.2" x2="362.5" y2="466.2"/><line x1="361" y1="450.0" x2="363.2" y2="450.0"/><line x1="361" y1="433.8" x2="362.5" y2="433.8"/><line x1="361" y1="417.5" x2="363.2" y2="417.5"/><line x1="361" y1="401.2" x2="362.5" y2="401.2"/><line x1="361" y1="385.0" x2="363.2" y2="385.0"/><line x1="361" y1="368.8" x2="362.5" y2="368.8"/><line x1="361" y1="352.5" x2="363.2" y2="352.5"/><line x1="361" y1="336.2" x2="362.5" y2="336.2"/><line x1="361" y1="320.0" x2="363.2" y2="320.0"/><line x1="383.5" y1="483" x2="383.5" y2="480.8"/><line x1="405.5" y1="483" x2="405.5" y2="480.8"/><line x1="427.5" y1="483" x2="427.5" y2="480.8"/><line x1="449.4" y1="483" x2="449.4" y2="480.8"/><line x1="471.2" y1="483" x2="471.2" y2="480.8"/></g>
<text x="0" y="0" font-size="6" fill="#333" text-anchor="middle" transform="translate(359.5,482.5) rotate(-90)">0</text>
<text x="0" y="0" font-size="6" fill="#333" text-anchor="middle" transform="translate(359.5,450.0) rotate(-90)">10</text>
<text x="0" y="0" font-size="6" fill="#333" text-anchor="middle" transform="translate(359.5,417.5) rotate(-90)">20</text>
<text x="0" y="0" font-size="6" fill="#333" text-anchor="middle" transform="translate(359.5,385.0) rotate(-90)">30</text>
<text x="0" y="0" font-size="6" fill="#333" text-anchor="middle" transform="translate(359.5,352.5) rotate(-90)">40</text>
<text x="0" y="0" font-size="6" fill="#333" text-anchor="middle" transform="translate(359.5,320.0) rotate(-90)">50</text>
<text x="369.6" y="330.6" font-size="12" font-weight="700" fill="#111">P</text>
<text x="0" y="0" font-size="9.35" fill="#222" text-anchor="middle" transform="translate(350.6,395) rotate(-90)">Co-Distribution (% Co-Localization)</text>
<g stroke="#444" stroke-width="0.6"><line x1="383.4" y1="371.4" x2="383.4" y2="386.7"/><line x1="382.59999999999997" y1="371.4" x2="384.2" y2="371.4"/><line x1="382.59999999999997" y1="386.7" x2="384.2" y2="386.7"/><line x1="405.4" y1="401.9" x2="405.4" y2="423.5"/><line x1="404.59999999999997" y1="401.9" x2="406.2" y2="401.9"/><line x1="404.59999999999997" y1="423.5" x2="406.2" y2="423.5"/><line x1="427.5" y1="395.5" x2="427.5" y2="410.8"/><line x1="426.7" y1="395.5" x2="428.3" y2="395.5"/><line x1="426.7" y1="410.8" x2="428.3" y2="410.8"/><line x1="449.3" y1="418.4" x2="449.3" y2="433.6"/><line x1="448.5" y1="418.4" x2="450.1" y2="418.4"/><line x1="448.5" y1="433.6" x2="450.1" y2="433.6"/><line x1="471" y1="365.6" x2="471" y2="384.6"/><line x1="470.2" y1="365.6" x2="471.8" y2="365.6"/><line x1="470.2" y1="384.6" x2="471.8" y2="384.6"/></g>
<circle cx="383.4" cy="379" r="1.1" fill="#fff" stroke="#444" stroke-width="0.5"/>
<circle cx="405.4" cy="412" r="1.1" fill="#fff" stroke="#444" stroke-width="0.5"/>
<circle cx="427.5" cy="403.2" r="1.1" fill="#fff" stroke="#444" stroke-width="0.5"/>
<circle cx="449.3" cy="425.5" r="1.1" fill="#fff" stroke="#444" stroke-width="0.5"/>
<circle cx="471" cy="375.2" r="1.1" fill="#fff" stroke="#444" stroke-width="0.5"/>
<line x1="376.7" y1="399.3" x2="476.5" y2="399.3" stroke="#111" stroke-width="1.7" stroke-dasharray="1.25,1.05"/>
<text x="479" y="401.2" font-size="6.6" fill="#222">AVE</text>
<text font-size="6.2" fill="#333" text-anchor="middle" transform="translate(372.5,494.6) rotate(-30)"><tspan x="0" y="0.0">Caucasian</tspan><tspan x="0" y="6.6">Female I</tspan></text>
<text font-size="6.2" fill="#333" text-anchor="middle" transform="translate(394.5,494.6) rotate(-30)"><tspan x="0" y="0.0">Caucasian</tspan><tspan x="0" y="6.6">Female II</tspan></text>
<text font-size="6.2" fill="#333" text-anchor="middle" transform="translate(416.5,494.6) rotate(-30)"><tspan x="0" y="0.0">Caucasian</tspan><tspan x="0" y="6.6">Male I</tspan></text>
<text font-size="6.2" fill="#333" text-anchor="middle" transform="translate(438.4,494.6) rotate(-30)"><tspan x="0" y="0.0">Caucasian</tspan><tspan x="0" y="6.6">Male II</tspan></text>
<text font-size="6.2" fill="#333" text-anchor="middle" transform="translate(469.4,491.5) rotate(-30)"><tspan x="0" y="0.0">East</tspan><tspan x="0" y="6.6">Indian</tspan><tspan x="0" y="13.2">Male I</tspan></text>
<text x="423.5" y="515.7" font-size="9.1" fill="#111" text-anchor="middle">Comparison of Fibrinogen and</text>
<text x="426.5" y="525.2" font-size="9.1" fill="#111" text-anchor="middle">Endostatin Across Five Individuals</text>
</svg></body></html>
